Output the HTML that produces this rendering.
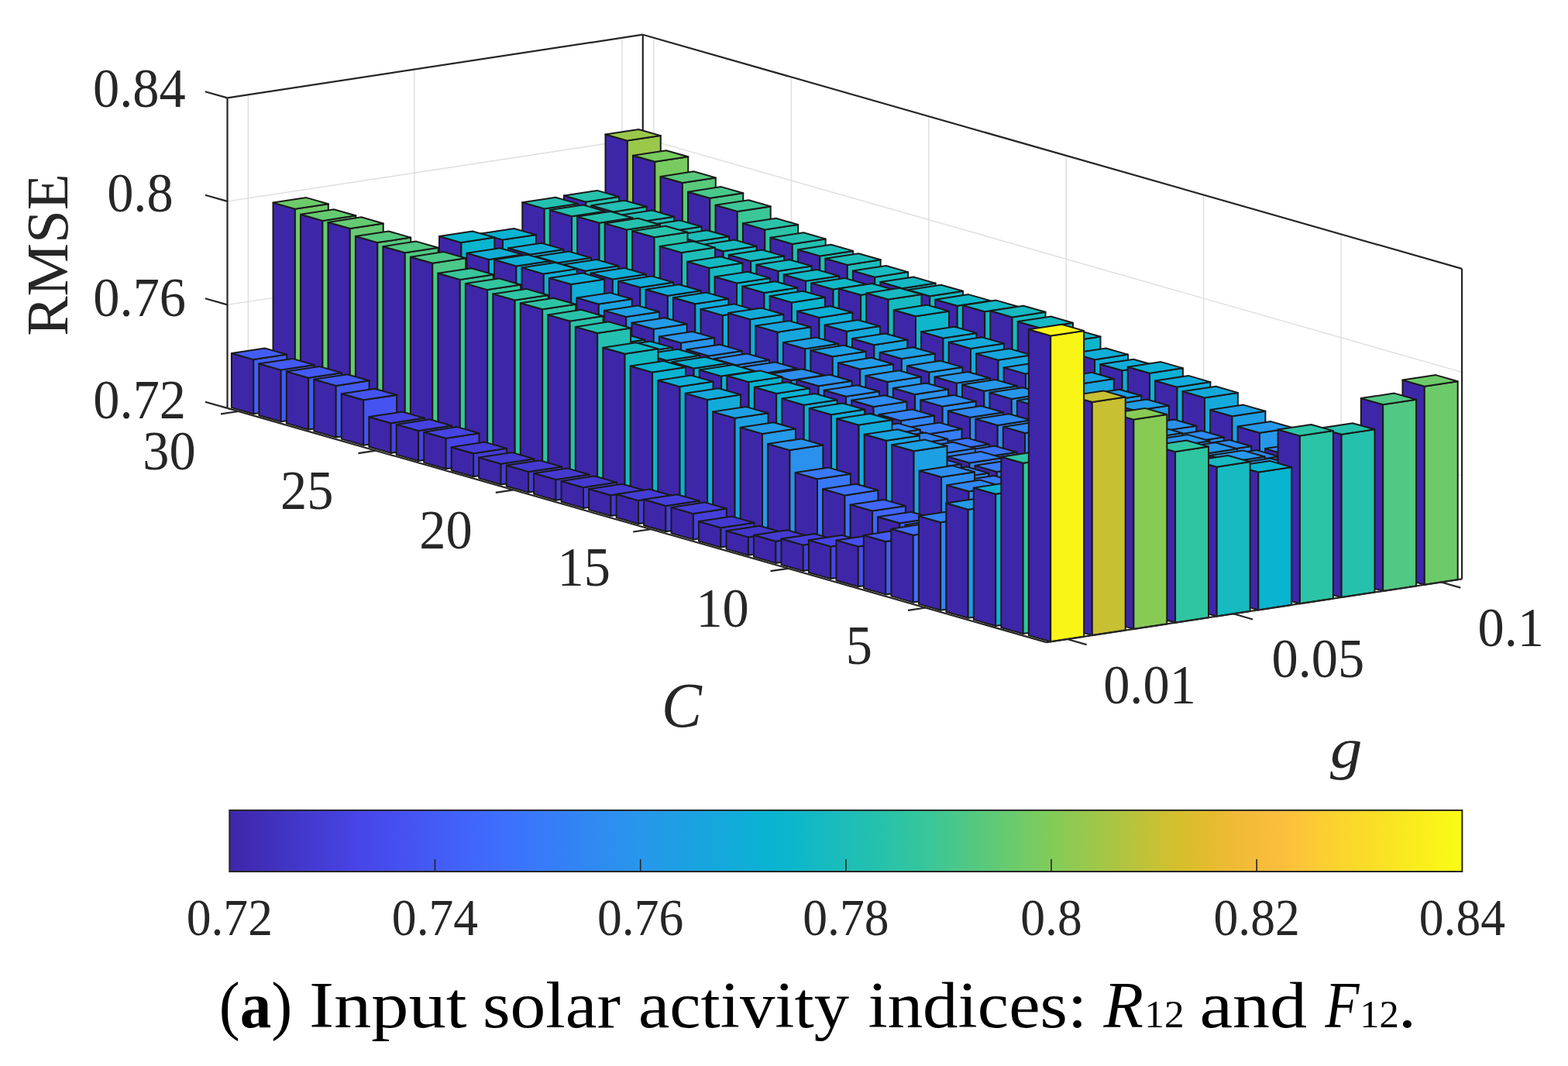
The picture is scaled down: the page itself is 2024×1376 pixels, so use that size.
<!DOCTYPE html><html><head><meta charset="utf-8"><title>RMSE bar chart</title><style>html,body{margin:0;padding:0;background:#fff;}svg{display:block;}</style></head><body><svg width="2024" height="1376" viewBox="0 0 2024 1376"><rect width="100%" height="100%" fill="#ffffff"/><line x1="320.3" y1="522.8" x2="320.3" y2="122.3" stroke="#dedede" stroke-width="1.4"/><line x1="534.8" y1="490.1" x2="534.8" y2="89.6" stroke="#dedede" stroke-width="1.4"/><line x1="803.0" y1="449.3" x2="803.0" y2="48.8" stroke="#dedede" stroke-width="1.4"/><line x1="1731.0" y1="702.8" x2="1731.0" y2="302.3" stroke="#dedede" stroke-width="1.4"/><line x1="1553.6" y1="652.1" x2="1553.6" y2="251.6" stroke="#dedede" stroke-width="1.4"/><line x1="1376.2" y1="601.4" x2="1376.2" y2="200.9" stroke="#dedede" stroke-width="1.4"/><line x1="1198.8" y1="550.7" x2="1198.8" y2="150.2" stroke="#dedede" stroke-width="1.4"/><line x1="1021.4" y1="500.0" x2="1021.4" y2="99.5" stroke="#dedede" stroke-width="1.4"/><line x1="844.0" y1="449.3" x2="844.0" y2="48.8" stroke="#dedede" stroke-width="1.4"/><line x1="293.5" y1="393.4" x2="829.8" y2="311.7" stroke="#dedede" stroke-width="1.4"/><line x1="829.8" y1="311.7" x2="1887.1" y2="613.9" stroke="#dedede" stroke-width="1.4"/><line x1="293.5" y1="259.9" x2="829.8" y2="178.2" stroke="#dedede" stroke-width="1.4"/><line x1="829.8" y1="178.2" x2="1887.1" y2="480.4" stroke="#dedede" stroke-width="1.4"/><line x1="320.3" y1="522.8" x2="1377.6" y2="825.0" stroke="#dedede" stroke-width="1.4"/><line x1="534.8" y1="490.1" x2="1592.1" y2="792.3" stroke="#dedede" stroke-width="1.4"/><line x1="803.0" y1="449.3" x2="1860.3" y2="751.5" stroke="#dedede" stroke-width="1.4"/><line x1="1194.7" y1="784.5" x2="1731.0" y2="702.8" stroke="#dedede" stroke-width="1.4"/><line x1="1017.3" y1="733.8" x2="1553.6" y2="652.1" stroke="#dedede" stroke-width="1.4"/><line x1="839.9" y1="683.1" x2="1376.2" y2="601.4" stroke="#dedede" stroke-width="1.4"/><line x1="662.5" y1="632.4" x2="1198.8" y2="550.7" stroke="#dedede" stroke-width="1.4"/><line x1="485.1" y1="581.7" x2="1021.4" y2="500.0" stroke="#dedede" stroke-width="1.4"/><line x1="307.7" y1="531.0" x2="844.0" y2="449.3" stroke="#dedede" stroke-width="1.4"/><line x1="293.5" y1="526.9" x2="293.5" y2="126.4" stroke="#262626" stroke-width="2.2"/><line x1="829.8" y1="445.2" x2="829.8" y2="44.7" stroke="#262626" stroke-width="2.2"/><line x1="1887.1" y1="747.4" x2="1887.1" y2="346.9" stroke="#262626" stroke-width="2.2"/><line x1="293.5" y1="126.4" x2="829.8" y2="44.7" stroke="#262626" stroke-width="2.2"/><line x1="829.8" y1="44.7" x2="1887.1" y2="346.9" stroke="#262626" stroke-width="2.2"/><polygon points="781.5,452.6 809.9,460.7 809.9,181.6 781.5,173.5" fill="#3e26a8" stroke="#1a1a1a" stroke-width="2.0" stroke-linejoin="round"/><polygon points="809.9,460.7 852.8,454.1 852.8,175.1 809.9,181.6" fill="#9ac84b" stroke="#1a1a1a" stroke-width="2.0" stroke-linejoin="round"/><polygon points="809.9,181.6 852.8,175.1 824.4,167.0 781.5,173.5" fill="#9ac84b" stroke="#1a1a1a" stroke-width="2.0" stroke-linejoin="round"/><polygon points="727.9,460.7 756.3,468.8 756.3,260.6 727.9,252.5" fill="#3e26a8" stroke="#1a1a1a" stroke-width="2.0" stroke-linejoin="round"/><polygon points="756.3,468.8 799.2,462.3 799.2,254.0 756.3,260.6" fill="#25c1ae" stroke="#1a1a1a" stroke-width="2.0" stroke-linejoin="round"/><polygon points="756.3,260.6 799.2,254.0 770.8,245.9 727.9,252.5" fill="#25c1ae" stroke="#1a1a1a" stroke-width="2.0" stroke-linejoin="round"/><polygon points="817.0,462.7 845.4,470.8 845.4,208.8 817.0,200.7" fill="#3e26a8" stroke="#1a1a1a" stroke-width="2.0" stroke-linejoin="round"/><polygon points="845.4,470.8 888.3,464.3 888.3,202.3 845.4,208.8" fill="#78cb60" stroke="#1a1a1a" stroke-width="2.0" stroke-linejoin="round"/><polygon points="845.4,208.8 888.3,202.3 859.9,194.2 817.0,200.7" fill="#78cb60" stroke="#1a1a1a" stroke-width="2.0" stroke-linejoin="round"/><polygon points="674.3,468.9 702.7,477.0 702.7,269.4 674.3,261.3" fill="#3e26a8" stroke="#1a1a1a" stroke-width="2.0" stroke-linejoin="round"/><polygon points="702.7,477.0 745.6,470.5 745.6,262.9 702.7,269.4" fill="#23c0b0" stroke="#1a1a1a" stroke-width="2.0" stroke-linejoin="round"/><polygon points="702.7,269.4 745.6,262.9 717.2,254.8 674.3,261.3" fill="#23c0b0" stroke="#1a1a1a" stroke-width="2.0" stroke-linejoin="round"/><polygon points="763.4,470.9 791.8,479.0 791.8,273.4 763.4,265.3" fill="#3e26a8" stroke="#1a1a1a" stroke-width="2.0" stroke-linejoin="round"/><polygon points="791.8,479.0 834.7,472.4 834.7,266.8 791.8,273.4" fill="#22bfb2" stroke="#1a1a1a" stroke-width="2.0" stroke-linejoin="round"/><polygon points="791.8,273.4 834.7,266.8 806.3,258.7 763.4,265.3" fill="#22bfb2" stroke="#1a1a1a" stroke-width="2.0" stroke-linejoin="round"/><polygon points="852.5,472.8 880.9,480.9 880.9,236.0 852.5,227.9" fill="#3e26a8" stroke="#1a1a1a" stroke-width="2.0" stroke-linejoin="round"/><polygon points="880.9,480.9 923.8,474.4 923.8,229.4 880.9,236.0" fill="#59c97c" stroke="#1a1a1a" stroke-width="2.0" stroke-linejoin="round"/><polygon points="880.9,236.0 923.8,229.4 895.4,221.3 852.5,227.9" fill="#59c97c" stroke="#1a1a1a" stroke-width="2.0" stroke-linejoin="round"/><polygon points="620.6,477.1 649.0,485.2 649.0,309.6 620.6,301.5" fill="#3e26a8" stroke="#1a1a1a" stroke-width="2.0" stroke-linejoin="round"/><polygon points="649.0,485.2 691.9,478.6 691.9,303.1 649.0,309.6" fill="#09b3d1" stroke="#1a1a1a" stroke-width="2.0" stroke-linejoin="round"/><polygon points="649.0,309.6 691.9,303.1 663.5,295.0 620.6,301.5" fill="#09b3d1" stroke="#1a1a1a" stroke-width="2.0" stroke-linejoin="round"/><polygon points="709.8,479.0 738.1,487.1 738.1,279.2 709.8,271.1" fill="#3e26a8" stroke="#1a1a1a" stroke-width="2.0" stroke-linejoin="round"/><polygon points="738.1,487.1 781.0,480.6 781.0,272.7 738.1,279.2" fill="#23c0b0" stroke="#1a1a1a" stroke-width="2.0" stroke-linejoin="round"/><polygon points="738.1,279.2 781.0,272.7 752.7,264.6 709.8,271.1" fill="#23c0b0" stroke="#1a1a1a" stroke-width="2.0" stroke-linejoin="round"/><polygon points="798.9,481.0 827.2,489.1 827.2,286.2 798.9,278.1" fill="#3e26a8" stroke="#1a1a1a" stroke-width="2.0" stroke-linejoin="round"/><polygon points="827.2,489.1 870.2,482.6 870.2,279.7 827.2,286.2" fill="#1fbeb5" stroke="#1a1a1a" stroke-width="2.0" stroke-linejoin="round"/><polygon points="827.2,286.2 870.2,279.7 841.8,271.5 798.9,278.1" fill="#1fbeb5" stroke="#1a1a1a" stroke-width="2.0" stroke-linejoin="round"/><polygon points="888.0,483.0 916.4,491.1 916.4,255.8 888.0,247.7" fill="#3e26a8" stroke="#1a1a1a" stroke-width="2.0" stroke-linejoin="round"/><polygon points="916.4,491.1 959.3,484.5 959.3,249.3 916.4,255.8" fill="#49c88b" stroke="#1a1a1a" stroke-width="2.0" stroke-linejoin="round"/><polygon points="916.4,255.8 959.3,249.3 930.9,241.1 888.0,247.7" fill="#49c88b" stroke="#1a1a1a" stroke-width="2.0" stroke-linejoin="round"/><polygon points="567.0,485.2 595.4,493.3 595.4,313.1 567.0,305.0" fill="#3e26a8" stroke="#1a1a1a" stroke-width="2.0" stroke-linejoin="round"/><polygon points="595.4,493.3 638.3,486.8 638.3,306.6 595.4,313.1" fill="#0ab6cd" stroke="#1a1a1a" stroke-width="2.0" stroke-linejoin="round"/><polygon points="595.4,313.1 638.3,306.6 609.9,298.5 567.0,305.0" fill="#0ab6cd" stroke="#1a1a1a" stroke-width="2.0" stroke-linejoin="round"/><polygon points="656.1,487.2 684.5,495.3 684.5,328.4 656.1,320.3" fill="#3e26a8" stroke="#1a1a1a" stroke-width="2.0" stroke-linejoin="round"/><polygon points="684.5,495.3 727.4,488.8 727.4,321.9 684.5,328.4" fill="#10add7" stroke="#1a1a1a" stroke-width="2.0" stroke-linejoin="round"/><polygon points="684.5,328.4 727.4,321.9 699.0,313.8 656.1,320.3" fill="#10add7" stroke="#1a1a1a" stroke-width="2.0" stroke-linejoin="round"/><polygon points="745.2,489.2 773.6,497.3 773.6,287.7 745.2,279.6" fill="#3e26a8" stroke="#1a1a1a" stroke-width="2.0" stroke-linejoin="round"/><polygon points="773.6,497.3 816.5,490.7 816.5,281.2 773.6,287.7" fill="#25c1ae" stroke="#1a1a1a" stroke-width="2.0" stroke-linejoin="round"/><polygon points="773.6,287.7 816.5,281.2 788.1,273.0 745.2,279.6" fill="#25c1ae" stroke="#1a1a1a" stroke-width="2.0" stroke-linejoin="round"/><polygon points="834.3,491.1 862.7,499.3 862.7,299.0 834.3,290.9" fill="#3e26a8" stroke="#1a1a1a" stroke-width="2.0" stroke-linejoin="round"/><polygon points="862.7,499.3 905.6,492.7 905.6,292.5 862.7,299.0" fill="#1dbeb7" stroke="#1a1a1a" stroke-width="2.0" stroke-linejoin="round"/><polygon points="862.7,299.0 905.6,292.5 877.2,284.4 834.3,290.9" fill="#1dbeb7" stroke="#1a1a1a" stroke-width="2.0" stroke-linejoin="round"/><polygon points="923.5,493.1 951.8,501.2 951.8,272.9 923.5,264.8" fill="#3e26a8" stroke="#1a1a1a" stroke-width="2.0" stroke-linejoin="round"/><polygon points="951.8,501.2 994.7,494.7 994.7,266.4 951.8,272.9" fill="#3bc797" stroke="#1a1a1a" stroke-width="2.0" stroke-linejoin="round"/><polygon points="951.8,272.9 994.7,266.4 966.4,258.3 923.5,264.8" fill="#3bc797" stroke="#1a1a1a" stroke-width="2.0" stroke-linejoin="round"/><polygon points="513.4,493.4 541.8,501.5 541.8,341.3 513.4,333.2" fill="#3e26a8" stroke="#1a1a1a" stroke-width="2.0" stroke-linejoin="round"/><polygon points="541.8,501.5 584.7,495.0 584.7,334.8 541.8,341.3" fill="#14a9db" stroke="#1a1a1a" stroke-width="2.0" stroke-linejoin="round"/><polygon points="541.8,341.3 584.7,334.8 556.3,326.7 513.4,333.2" fill="#14a9db" stroke="#1a1a1a" stroke-width="2.0" stroke-linejoin="round"/><polygon points="602.5,495.4 630.9,503.5 630.9,334.9 602.5,326.8" fill="#3e26a8" stroke="#1a1a1a" stroke-width="2.0" stroke-linejoin="round"/><polygon points="630.9,503.5 673.8,496.9 673.8,328.4 630.9,334.9" fill="#0faed6" stroke="#1a1a1a" stroke-width="2.0" stroke-linejoin="round"/><polygon points="630.9,334.9 673.8,328.4 645.4,320.3 602.5,326.8" fill="#0faed6" stroke="#1a1a1a" stroke-width="2.0" stroke-linejoin="round"/><polygon points="691.6,497.3 720.0,505.5 720.0,339.2 691.6,331.1" fill="#3e26a8" stroke="#1a1a1a" stroke-width="2.0" stroke-linejoin="round"/><polygon points="720.0,505.5 762.9,498.9 762.9,332.7 720.0,339.2" fill="#10add7" stroke="#1a1a1a" stroke-width="2.0" stroke-linejoin="round"/><polygon points="720.0,339.2 762.9,332.7 734.5,324.6 691.6,331.1" fill="#10add7" stroke="#1a1a1a" stroke-width="2.0" stroke-linejoin="round"/><polygon points="780.7,499.3 809.1,507.4 809.1,296.5 780.7,288.4" fill="#3e26a8" stroke="#1a1a1a" stroke-width="2.0" stroke-linejoin="round"/><polygon points="809.1,507.4 852.0,500.9 852.0,290.0 809.1,296.5" fill="#26c1ad" stroke="#1a1a1a" stroke-width="2.0" stroke-linejoin="round"/><polygon points="809.1,296.5 852.0,290.0 823.6,281.8 780.7,288.4" fill="#26c1ad" stroke="#1a1a1a" stroke-width="2.0" stroke-linejoin="round"/><polygon points="869.8,501.3 898.2,509.4 898.2,311.8 869.8,303.7" fill="#3e26a8" stroke="#1a1a1a" stroke-width="2.0" stroke-linejoin="round"/><polygon points="898.2,509.4 941.1,502.9 941.1,305.3 898.2,311.8" fill="#1abcba" stroke="#1a1a1a" stroke-width="2.0" stroke-linejoin="round"/><polygon points="898.2,311.8 941.1,305.3 912.7,297.2 869.8,303.7" fill="#1abcba" stroke="#1a1a1a" stroke-width="2.0" stroke-linejoin="round"/><polygon points="958.9,503.3 987.3,511.4 987.3,296.4 958.9,288.3" fill="#3e26a8" stroke="#1a1a1a" stroke-width="2.0" stroke-linejoin="round"/><polygon points="987.3,511.4 1030.2,504.8 1030.2,289.9 987.3,296.4" fill="#2bc3a7" stroke="#1a1a1a" stroke-width="2.0" stroke-linejoin="round"/><polygon points="987.3,296.4 1030.2,289.9 1001.8,281.8 958.9,288.3" fill="#2bc3a7" stroke="#1a1a1a" stroke-width="2.0" stroke-linejoin="round"/><polygon points="459.8,501.6 488.1,509.7 488.1,349.5 459.8,341.4" fill="#3e26a8" stroke="#1a1a1a" stroke-width="2.0" stroke-linejoin="round"/><polygon points="488.1,509.7 531.0,503.1 531.0,342.9 488.1,349.5" fill="#14a9db" stroke="#1a1a1a" stroke-width="2.0" stroke-linejoin="round"/><polygon points="488.1,349.5 531.0,342.9 502.7,334.8 459.8,341.4" fill="#14a9db" stroke="#1a1a1a" stroke-width="2.0" stroke-linejoin="round"/><polygon points="548.9,503.5 577.2,511.7 577.2,358.1 548.9,350.0" fill="#3e26a8" stroke="#1a1a1a" stroke-width="2.0" stroke-linejoin="round"/><polygon points="577.2,511.7 620.2,505.1 620.2,351.6 577.2,358.1" fill="#19a4df" stroke="#1a1a1a" stroke-width="2.0" stroke-linejoin="round"/><polygon points="577.2,358.1 620.2,351.6 591.8,343.5 548.9,350.0" fill="#19a4df" stroke="#1a1a1a" stroke-width="2.0" stroke-linejoin="round"/><polygon points="638.0,505.5 666.4,513.6 666.4,343.4 638.0,335.3" fill="#3e26a8" stroke="#1a1a1a" stroke-width="2.0" stroke-linejoin="round"/><polygon points="666.4,513.6 709.3,507.1 709.3,336.9 666.4,343.4" fill="#0eafd5" stroke="#1a1a1a" stroke-width="2.0" stroke-linejoin="round"/><polygon points="666.4,343.4 709.3,336.9 680.9,328.8 638.0,335.3" fill="#0eafd5" stroke="#1a1a1a" stroke-width="2.0" stroke-linejoin="round"/><polygon points="727.1,507.5 755.5,515.6 755.5,349.7 727.1,341.6" fill="#3e26a8" stroke="#1a1a1a" stroke-width="2.0" stroke-linejoin="round"/><polygon points="755.5,515.6 798.4,509.1 798.4,343.2 755.5,349.7" fill="#10add7" stroke="#1a1a1a" stroke-width="2.0" stroke-linejoin="round"/><polygon points="755.5,349.7 798.4,343.2 770.0,335.1 727.1,341.6" fill="#10add7" stroke="#1a1a1a" stroke-width="2.0" stroke-linejoin="round"/><polygon points="816.2,509.5 844.6,517.6 844.6,306.3 816.2,298.2" fill="#3e26a8" stroke="#1a1a1a" stroke-width="2.0" stroke-linejoin="round"/><polygon points="844.6,517.6 887.5,511.0 887.5,299.8 844.6,306.3" fill="#28c2ab" stroke="#1a1a1a" stroke-width="2.0" stroke-linejoin="round"/><polygon points="844.6,306.3 887.5,299.8 859.1,291.7 816.2,298.2" fill="#28c2ab" stroke="#1a1a1a" stroke-width="2.0" stroke-linejoin="round"/><polygon points="905.3,511.4 933.7,519.5 933.7,324.3 905.3,316.2" fill="#3e26a8" stroke="#1a1a1a" stroke-width="2.0" stroke-linejoin="round"/><polygon points="933.7,519.5 976.6,513.0 976.6,317.8 933.7,324.3" fill="#17bbbe" stroke="#1a1a1a" stroke-width="2.0" stroke-linejoin="round"/><polygon points="933.7,324.3 976.6,317.8 948.2,309.6 905.3,316.2" fill="#17bbbe" stroke="#1a1a1a" stroke-width="2.0" stroke-linejoin="round"/><polygon points="994.4,513.4 1022.8,521.5 1022.8,314.9 994.4,306.8" fill="#3e26a8" stroke="#1a1a1a" stroke-width="2.0" stroke-linejoin="round"/><polygon points="1022.8,521.5 1065.7,515.0 1065.7,308.4 1022.8,314.9" fill="#23c0b0" stroke="#1a1a1a" stroke-width="2.0" stroke-linejoin="round"/><polygon points="1022.8,314.9 1065.7,308.4 1037.3,300.3 994.4,306.8" fill="#23c0b0" stroke="#1a1a1a" stroke-width="2.0" stroke-linejoin="round"/><polygon points="406.1,509.7 434.5,517.9 434.5,343.6 406.1,335.5" fill="#3e26a8" stroke="#1a1a1a" stroke-width="2.0" stroke-linejoin="round"/><polygon points="434.5,517.9 477.4,511.3 477.4,337.1 434.5,343.6" fill="#0ab2d2" stroke="#1a1a1a" stroke-width="2.0" stroke-linejoin="round"/><polygon points="434.5,343.6 477.4,337.1 449.0,329.0 406.1,335.5" fill="#0ab2d2" stroke="#1a1a1a" stroke-width="2.0" stroke-linejoin="round"/><polygon points="495.2,511.7 523.6,519.8 523.6,365.0 495.2,356.9" fill="#3e26a8" stroke="#1a1a1a" stroke-width="2.0" stroke-linejoin="round"/><polygon points="523.6,519.8 566.5,513.3 566.5,358.4 523.6,365.0" fill="#19a4df" stroke="#1a1a1a" stroke-width="2.0" stroke-linejoin="round"/><polygon points="523.6,365.0 566.5,358.4 538.1,350.3 495.2,356.9" fill="#19a4df" stroke="#1a1a1a" stroke-width="2.0" stroke-linejoin="round"/><polygon points="584.3,513.7 612.7,521.8 612.7,374.9 584.3,366.8" fill="#3e26a8" stroke="#1a1a1a" stroke-width="2.0" stroke-linejoin="round"/><polygon points="612.7,521.8 655.6,515.3 655.6,368.4 612.7,374.9" fill="#1e9fe3" stroke="#1a1a1a" stroke-width="2.0" stroke-linejoin="round"/><polygon points="612.7,374.9 655.6,368.4 627.2,360.3 584.3,366.8" fill="#1e9fe3" stroke="#1a1a1a" stroke-width="2.0" stroke-linejoin="round"/><polygon points="673.5,515.7 701.8,523.8 701.8,353.6 673.5,345.4" fill="#3e26a8" stroke="#1a1a1a" stroke-width="2.0" stroke-linejoin="round"/><polygon points="701.8,523.8 744.7,517.2 744.7,347.0 701.8,353.6" fill="#0eafd5" stroke="#1a1a1a" stroke-width="2.0" stroke-linejoin="round"/><polygon points="701.8,353.6 744.7,347.0 716.4,338.9 673.5,345.4" fill="#0eafd5" stroke="#1a1a1a" stroke-width="2.0" stroke-linejoin="round"/><polygon points="762.6,517.6 790.9,525.7 790.9,360.5 762.6,352.4" fill="#3e26a8" stroke="#1a1a1a" stroke-width="2.0" stroke-linejoin="round"/><polygon points="790.9,525.7 833.9,519.2 833.9,354.0 790.9,360.5" fill="#11acd8" stroke="#1a1a1a" stroke-width="2.0" stroke-linejoin="round"/><polygon points="790.9,360.5 833.9,354.0 805.5,345.9 762.6,352.4" fill="#11acd8" stroke="#1a1a1a" stroke-width="2.0" stroke-linejoin="round"/><polygon points="851.7,519.6 880.1,527.7 880.1,326.1 851.7,318.0" fill="#3e26a8" stroke="#1a1a1a" stroke-width="2.0" stroke-linejoin="round"/><polygon points="880.1,527.7 923.0,521.2 923.0,319.6 880.1,326.1" fill="#1dbeb7" stroke="#1a1a1a" stroke-width="2.0" stroke-linejoin="round"/><polygon points="880.1,326.1 923.0,319.6 894.6,311.5 851.7,318.0" fill="#1dbeb7" stroke="#1a1a1a" stroke-width="2.0" stroke-linejoin="round"/><polygon points="940.8,521.6 969.2,529.7 969.2,337.1 940.8,329.0" fill="#3e26a8" stroke="#1a1a1a" stroke-width="2.0" stroke-linejoin="round"/><polygon points="969.2,529.7 1012.1,523.1 1012.1,330.6 969.2,337.1" fill="#16bac0" stroke="#1a1a1a" stroke-width="2.0" stroke-linejoin="round"/><polygon points="969.2,337.1 1012.1,330.6 983.7,322.5 940.8,329.0" fill="#16bac0" stroke="#1a1a1a" stroke-width="2.0" stroke-linejoin="round"/><polygon points="1029.9,523.5 1058.3,531.6 1058.3,330.4 1029.9,322.3" fill="#3e26a8" stroke="#1a1a1a" stroke-width="2.0" stroke-linejoin="round"/><polygon points="1058.3,531.6 1101.2,525.1 1101.2,323.9 1058.3,330.4" fill="#1dbeb7" stroke="#1a1a1a" stroke-width="2.0" stroke-linejoin="round"/><polygon points="1058.3,330.4 1101.2,323.9 1072.8,315.7 1029.9,322.3" fill="#1dbeb7" stroke="#1a1a1a" stroke-width="2.0" stroke-linejoin="round"/><polygon points="352.5,517.9 380.9,526.0 380.9,269.7 352.5,261.6" fill="#3e26a8" stroke="#1a1a1a" stroke-width="2.0" stroke-linejoin="round"/><polygon points="380.9,526.0 423.8,519.5 423.8,263.2 380.9,269.7" fill="#6dca6a" stroke="#1a1a1a" stroke-width="2.0" stroke-linejoin="round"/><polygon points="380.9,269.7 423.8,263.2 395.4,255.1 352.5,261.6" fill="#6dca6a" stroke="#1a1a1a" stroke-width="2.0" stroke-linejoin="round"/><polygon points="441.6,519.9 470.0,528.0 470.0,353.8 441.6,345.7" fill="#3e26a8" stroke="#1a1a1a" stroke-width="2.0" stroke-linejoin="round"/><polygon points="470.0,528.0 512.9,521.5 512.9,347.2 470.0,353.8" fill="#0ab2d2" stroke="#1a1a1a" stroke-width="2.0" stroke-linejoin="round"/><polygon points="470.0,353.8 512.9,347.2 484.5,339.1 441.6,345.7" fill="#0ab2d2" stroke="#1a1a1a" stroke-width="2.0" stroke-linejoin="round"/><polygon points="530.7,521.9 559.1,530.0 559.1,380.4 530.7,372.3" fill="#3e26a8" stroke="#1a1a1a" stroke-width="2.0" stroke-linejoin="round"/><polygon points="559.1,530.0 602.0,523.4 602.0,373.9 559.1,380.4" fill="#1ca1e2" stroke="#1a1a1a" stroke-width="2.0" stroke-linejoin="round"/><polygon points="559.1,380.4 602.0,373.9 573.6,365.8 530.7,372.3" fill="#1ca1e2" stroke="#1a1a1a" stroke-width="2.0" stroke-linejoin="round"/><polygon points="619.8,523.8 648.2,531.9 648.2,391.8 619.8,383.6" fill="#3e26a8" stroke="#1a1a1a" stroke-width="2.0" stroke-linejoin="round"/><polygon points="648.2,531.9 691.1,525.4 691.1,385.2 648.2,391.8" fill="#239be7" stroke="#1a1a1a" stroke-width="2.0" stroke-linejoin="round"/><polygon points="648.2,391.8 691.1,385.2 662.7,377.1 619.8,383.6" fill="#239be7" stroke="#1a1a1a" stroke-width="2.0" stroke-linejoin="round"/><polygon points="708.9,525.8 737.3,533.9 737.3,367.0 708.9,358.9" fill="#3e26a8" stroke="#1a1a1a" stroke-width="2.0" stroke-linejoin="round"/><polygon points="737.3,533.9 780.2,527.4 780.2,360.5 737.3,367.0" fill="#10add7" stroke="#1a1a1a" stroke-width="2.0" stroke-linejoin="round"/><polygon points="737.3,367.0 780.2,360.5 751.8,352.4 708.9,358.9" fill="#10add7" stroke="#1a1a1a" stroke-width="2.0" stroke-linejoin="round"/><polygon points="798.0,527.8 826.4,535.9 826.4,371.0 798.0,362.9" fill="#3e26a8" stroke="#1a1a1a" stroke-width="2.0" stroke-linejoin="round"/><polygon points="826.4,535.9 869.3,529.3 869.3,364.5 826.4,371.0" fill="#11acd8" stroke="#1a1a1a" stroke-width="2.0" stroke-linejoin="round"/><polygon points="826.4,371.0 869.3,364.5 840.9,356.4 798.0,362.9" fill="#11acd8" stroke="#1a1a1a" stroke-width="2.0" stroke-linejoin="round"/><polygon points="887.2,529.7 915.5,537.8 915.5,345.9 887.2,337.8" fill="#3e26a8" stroke="#1a1a1a" stroke-width="2.0" stroke-linejoin="round"/><polygon points="915.5,537.8 958.4,531.3 958.4,339.4 915.5,345.9" fill="#14bac1" stroke="#1a1a1a" stroke-width="2.0" stroke-linejoin="round"/><polygon points="915.5,345.9 958.4,339.4 930.1,331.3 887.2,337.8" fill="#14bac1" stroke="#1a1a1a" stroke-width="2.0" stroke-linejoin="round"/><polygon points="976.3,531.7 1004.6,539.8 1004.6,349.9 976.3,341.8" fill="#3e26a8" stroke="#1a1a1a" stroke-width="2.0" stroke-linejoin="round"/><polygon points="1004.6,539.8 1047.6,533.3 1047.6,343.4 1004.6,349.9" fill="#13b9c3" stroke="#1a1a1a" stroke-width="2.0" stroke-linejoin="round"/><polygon points="1004.6,349.9 1047.6,343.4 1019.2,335.3 976.3,341.8" fill="#13b9c3" stroke="#1a1a1a" stroke-width="2.0" stroke-linejoin="round"/><polygon points="1065.4,533.7 1093.8,541.8 1093.8,341.9 1065.4,333.8" fill="#3e26a8" stroke="#1a1a1a" stroke-width="2.0" stroke-linejoin="round"/><polygon points="1093.8,541.8 1136.7,535.2 1136.7,335.3 1093.8,341.9" fill="#1cbdb9" stroke="#1a1a1a" stroke-width="2.0" stroke-linejoin="round"/><polygon points="1093.8,341.9 1136.7,335.3 1108.3,327.2 1065.4,333.8" fill="#1cbdb9" stroke="#1a1a1a" stroke-width="2.0" stroke-linejoin="round"/><polygon points="298.9,526.1 327.2,534.2 327.2,464.1 298.9,456.0" fill="#3e26a8" stroke="#1a1a1a" stroke-width="2.0" stroke-linejoin="round"/><polygon points="327.2,534.2 370.2,527.7 370.2,457.6 327.2,464.1" fill="#425df6" stroke="#1a1a1a" stroke-width="2.0" stroke-linejoin="round"/><polygon points="327.2,464.1 370.2,457.6 341.8,449.5 298.9,456.0" fill="#425df6" stroke="#1a1a1a" stroke-width="2.0" stroke-linejoin="round"/><polygon points="388.0,528.1 416.4,536.2 416.4,284.9 388.0,276.7" fill="#3e26a8" stroke="#1a1a1a" stroke-width="2.0" stroke-linejoin="round"/><polygon points="416.4,536.2 459.3,529.6 459.3,278.3 416.4,284.9" fill="#65ca72" stroke="#1a1a1a" stroke-width="2.0" stroke-linejoin="round"/><polygon points="416.4,284.9 459.3,278.3 430.9,270.2 388.0,276.7" fill="#65ca72" stroke="#1a1a1a" stroke-width="2.0" stroke-linejoin="round"/><polygon points="477.1,530.0 505.5,538.1 505.5,363.9 477.1,355.8" fill="#3e26a8" stroke="#1a1a1a" stroke-width="2.0" stroke-linejoin="round"/><polygon points="505.5,538.1 548.4,531.6 548.4,357.4 505.5,363.9" fill="#0ab2d2" stroke="#1a1a1a" stroke-width="2.0" stroke-linejoin="round"/><polygon points="505.5,363.9 548.4,357.4 520.0,349.3 477.1,355.8" fill="#0ab2d2" stroke="#1a1a1a" stroke-width="2.0" stroke-linejoin="round"/><polygon points="566.2,532.0 594.6,540.1 594.6,395.9 566.2,387.8" fill="#3e26a8" stroke="#1a1a1a" stroke-width="2.0" stroke-linejoin="round"/><polygon points="594.6,540.1 637.5,533.6 637.5,389.4 594.6,395.9" fill="#1f9ee4" stroke="#1a1a1a" stroke-width="2.0" stroke-linejoin="round"/><polygon points="594.6,395.9 637.5,389.4 609.1,381.3 566.2,387.8" fill="#1f9ee4" stroke="#1a1a1a" stroke-width="2.0" stroke-linejoin="round"/><polygon points="655.3,534.0 683.7,542.1 683.7,408.6 655.3,400.5" fill="#3e26a8" stroke="#1a1a1a" stroke-width="2.0" stroke-linejoin="round"/><polygon points="683.7,542.1 726.6,535.5 726.6,402.0 683.7,408.6" fill="#2797eb" stroke="#1a1a1a" stroke-width="2.0" stroke-linejoin="round"/><polygon points="683.7,408.6 726.6,402.0 698.2,393.9 655.3,400.5" fill="#2797eb" stroke="#1a1a1a" stroke-width="2.0" stroke-linejoin="round"/><polygon points="744.4,535.9 772.8,544.0 772.8,392.5 744.4,384.4" fill="#3e26a8" stroke="#1a1a1a" stroke-width="2.0" stroke-linejoin="round"/><polygon points="772.8,544.0 815.7,537.5 815.7,386.0 772.8,392.5" fill="#1ba2e1" stroke="#1a1a1a" stroke-width="2.0" stroke-linejoin="round"/><polygon points="772.8,392.5 815.7,386.0 787.3,377.9 744.4,384.4" fill="#1ba2e1" stroke="#1a1a1a" stroke-width="2.0" stroke-linejoin="round"/><polygon points="833.5,537.9 861.9,546.0 861.9,381.8 833.5,373.7" fill="#3e26a8" stroke="#1a1a1a" stroke-width="2.0" stroke-linejoin="round"/><polygon points="861.9,546.0 904.8,539.5 904.8,375.3 861.9,381.8" fill="#12abd9" stroke="#1a1a1a" stroke-width="2.0" stroke-linejoin="round"/><polygon points="861.9,381.8 904.8,375.3 876.4,367.2 833.5,373.7" fill="#12abd9" stroke="#1a1a1a" stroke-width="2.0" stroke-linejoin="round"/><polygon points="922.6,539.9 951.0,548.0 951.0,365.4 922.6,357.3" fill="#3e26a8" stroke="#1a1a1a" stroke-width="2.0" stroke-linejoin="round"/><polygon points="951.0,548.0 993.9,541.4 993.9,358.9 951.0,365.4" fill="#0cb6cc" stroke="#1a1a1a" stroke-width="2.0" stroke-linejoin="round"/><polygon points="951.0,365.4 993.9,358.9 965.5,350.8 922.6,357.3" fill="#0cb6cc" stroke="#1a1a1a" stroke-width="2.0" stroke-linejoin="round"/><polygon points="1011.7,541.8 1040.1,550.0 1040.1,362.7 1011.7,354.6" fill="#3e26a8" stroke="#1a1a1a" stroke-width="2.0" stroke-linejoin="round"/><polygon points="1040.1,550.0 1083.0,543.4 1083.0,356.2 1040.1,362.7" fill="#10b8c6" stroke="#1a1a1a" stroke-width="2.0" stroke-linejoin="round"/><polygon points="1040.1,362.7 1083.0,356.2 1054.6,348.1 1011.7,354.6" fill="#10b8c6" stroke="#1a1a1a" stroke-width="2.0" stroke-linejoin="round"/><polygon points="1100.9,543.8 1129.2,551.9 1129.2,357.7 1100.9,349.6" fill="#3e26a8" stroke="#1a1a1a" stroke-width="2.0" stroke-linejoin="round"/><polygon points="1129.2,551.9 1172.1,545.4 1172.1,351.1 1129.2,357.7" fill="#17bbbe" stroke="#1a1a1a" stroke-width="2.0" stroke-linejoin="round"/><polygon points="1129.2,357.7 1172.1,351.1 1143.8,343.0 1100.9,349.6" fill="#17bbbe" stroke="#1a1a1a" stroke-width="2.0" stroke-linejoin="round"/><polygon points="334.3,536.2 362.7,544.3 362.7,477.6 334.3,469.5" fill="#3e26a8" stroke="#1a1a1a" stroke-width="2.0" stroke-linejoin="round"/><polygon points="362.7,544.3 405.6,537.8 405.6,471.0 362.7,477.6" fill="#435af5" stroke="#1a1a1a" stroke-width="2.0" stroke-linejoin="round"/><polygon points="362.7,477.6 405.6,471.0 377.2,462.9 334.3,469.5" fill="#435af5" stroke="#1a1a1a" stroke-width="2.0" stroke-linejoin="round"/><polygon points="423.5,538.2 451.8,546.3 451.8,295.0 423.5,286.9" fill="#3e26a8" stroke="#1a1a1a" stroke-width="2.0" stroke-linejoin="round"/><polygon points="451.8,546.3 494.7,539.8 494.7,288.5 451.8,295.0" fill="#65ca72" stroke="#1a1a1a" stroke-width="2.0" stroke-linejoin="round"/><polygon points="451.8,295.0 494.7,288.5 466.4,280.3 423.5,286.9" fill="#65ca72" stroke="#1a1a1a" stroke-width="2.0" stroke-linejoin="round"/><polygon points="512.6,540.2 540.9,548.3 540.9,374.1 512.6,365.9" fill="#3e26a8" stroke="#1a1a1a" stroke-width="2.0" stroke-linejoin="round"/><polygon points="540.9,548.3 583.9,541.7 583.9,367.5 540.9,374.1" fill="#0ab2d2" stroke="#1a1a1a" stroke-width="2.0" stroke-linejoin="round"/><polygon points="540.9,374.1 583.9,367.5 555.5,359.4 512.6,365.9" fill="#0ab2d2" stroke="#1a1a1a" stroke-width="2.0" stroke-linejoin="round"/><polygon points="601.7,542.1 630.1,550.2 630.1,411.4 601.7,403.3" fill="#3e26a8" stroke="#1a1a1a" stroke-width="2.0" stroke-linejoin="round"/><polygon points="630.1,550.2 673.0,543.7 673.0,404.9 630.1,411.4" fill="#249ae8" stroke="#1a1a1a" stroke-width="2.0" stroke-linejoin="round"/><polygon points="630.1,411.4 673.0,404.9 644.6,396.8 601.7,403.3" fill="#249ae8" stroke="#1a1a1a" stroke-width="2.0" stroke-linejoin="round"/><polygon points="690.8,544.1 719.2,552.2 719.2,425.4 690.8,417.3" fill="#3e26a8" stroke="#1a1a1a" stroke-width="2.0" stroke-linejoin="round"/><polygon points="719.2,552.2 762.1,545.7 762.1,418.9 719.2,425.4" fill="#2b91ee" stroke="#1a1a1a" stroke-width="2.0" stroke-linejoin="round"/><polygon points="719.2,425.4 762.1,418.9 733.7,410.7 690.8,417.3" fill="#2b91ee" stroke="#1a1a1a" stroke-width="2.0" stroke-linejoin="round"/><polygon points="779.9,546.1 808.3,554.2 808.3,409.0 779.9,400.9" fill="#3e26a8" stroke="#1a1a1a" stroke-width="2.0" stroke-linejoin="round"/><polygon points="808.3,554.2 851.2,547.6 851.2,402.5 808.3,409.0" fill="#1f9ee4" stroke="#1a1a1a" stroke-width="2.0" stroke-linejoin="round"/><polygon points="808.3,409.0 851.2,402.5 822.8,394.4 779.9,400.9" fill="#1f9ee4" stroke="#1a1a1a" stroke-width="2.0" stroke-linejoin="round"/><polygon points="869.0,548.0 897.4,556.2 897.4,392.3 869.0,384.2" fill="#3e26a8" stroke="#1a1a1a" stroke-width="2.0" stroke-linejoin="round"/><polygon points="897.4,556.2 940.3,549.6 940.3,385.7 897.4,392.3" fill="#12abd9" stroke="#1a1a1a" stroke-width="2.0" stroke-linejoin="round"/><polygon points="897.4,392.3 940.3,385.7 911.9,377.6 869.0,384.2" fill="#12abd9" stroke="#1a1a1a" stroke-width="2.0" stroke-linejoin="round"/><polygon points="958.1,550.0 986.5,558.1 986.5,377.9 958.1,369.8" fill="#3e26a8" stroke="#1a1a1a" stroke-width="2.0" stroke-linejoin="round"/><polygon points="986.5,558.1 1029.4,551.6 1029.4,371.4 986.5,377.9" fill="#0ab6cd" stroke="#1a1a1a" stroke-width="2.0" stroke-linejoin="round"/><polygon points="986.5,377.9 1029.4,371.4 1001.0,363.3 958.1,369.8" fill="#0ab6cd" stroke="#1a1a1a" stroke-width="2.0" stroke-linejoin="round"/><polygon points="1047.2,552.0 1075.6,560.1 1075.6,373.5 1047.2,365.4" fill="#3e26a8" stroke="#1a1a1a" stroke-width="2.0" stroke-linejoin="round"/><polygon points="1075.6,560.1 1118.5,553.6 1118.5,367.0 1075.6,373.5" fill="#10b8c6" stroke="#1a1a1a" stroke-width="2.0" stroke-linejoin="round"/><polygon points="1075.6,373.5 1118.5,367.0 1090.1,358.9 1047.2,365.4" fill="#10b8c6" stroke="#1a1a1a" stroke-width="2.0" stroke-linejoin="round"/><polygon points="1136.3,554.0 1164.7,562.1 1164.7,372.2 1136.3,364.0" fill="#3e26a8" stroke="#1a1a1a" stroke-width="2.0" stroke-linejoin="round"/><polygon points="1164.7,562.1 1207.6,555.5 1207.6,365.6 1164.7,372.2" fill="#13b9c3" stroke="#1a1a1a" stroke-width="2.0" stroke-linejoin="round"/><polygon points="1164.7,372.2 1207.6,365.6 1179.2,357.5 1136.3,364.0" fill="#13b9c3" stroke="#1a1a1a" stroke-width="2.0" stroke-linejoin="round"/><polygon points="369.8,546.4 398.2,554.5 398.2,487.7 369.8,479.6" fill="#3e26a8" stroke="#1a1a1a" stroke-width="2.0" stroke-linejoin="round"/><polygon points="398.2,554.5 441.1,547.9 441.1,481.2 398.2,487.7" fill="#435af5" stroke="#1a1a1a" stroke-width="2.0" stroke-linejoin="round"/><polygon points="398.2,487.7 441.1,481.2 412.7,473.1 369.8,479.6" fill="#435af5" stroke="#1a1a1a" stroke-width="2.0" stroke-linejoin="round"/><polygon points="458.9,548.3 487.3,556.4 487.3,313.1 458.9,305.0" fill="#3e26a8" stroke="#1a1a1a" stroke-width="2.0" stroke-linejoin="round"/><polygon points="487.3,556.4 530.2,549.9 530.2,306.6 487.3,313.1" fill="#57c97e" stroke="#1a1a1a" stroke-width="2.0" stroke-linejoin="round"/><polygon points="487.3,313.1 530.2,306.6 501.8,298.5 458.9,305.0" fill="#57c97e" stroke="#1a1a1a" stroke-width="2.0" stroke-linejoin="round"/><polygon points="548.0,550.3 576.4,558.4 576.4,384.2 548.0,376.1" fill="#3e26a8" stroke="#1a1a1a" stroke-width="2.0" stroke-linejoin="round"/><polygon points="576.4,558.4 619.3,551.9 619.3,377.7 576.4,384.2" fill="#0ab2d2" stroke="#1a1a1a" stroke-width="2.0" stroke-linejoin="round"/><polygon points="576.4,384.2 619.3,377.7 590.9,369.5 548.0,376.1" fill="#0ab2d2" stroke="#1a1a1a" stroke-width="2.0" stroke-linejoin="round"/><polygon points="637.2,552.3 665.5,560.4 665.5,426.9 637.2,418.8" fill="#3e26a8" stroke="#1a1a1a" stroke-width="2.0" stroke-linejoin="round"/><polygon points="665.5,560.4 708.4,553.8 708.4,420.3 665.5,426.9" fill="#2797eb" stroke="#1a1a1a" stroke-width="2.0" stroke-linejoin="round"/><polygon points="665.5,426.9 708.4,420.3 680.1,412.2 637.2,418.8" fill="#2797eb" stroke="#1a1a1a" stroke-width="2.0" stroke-linejoin="round"/><polygon points="726.3,554.2 754.6,562.4 754.6,437.5 726.3,429.4" fill="#3e26a8" stroke="#1a1a1a" stroke-width="2.0" stroke-linejoin="round"/><polygon points="754.6,562.4 797.6,555.8 797.6,431.0 754.6,437.5" fill="#2c8eef" stroke="#1a1a1a" stroke-width="2.0" stroke-linejoin="round"/><polygon points="754.6,437.5 797.6,431.0 769.2,422.9 726.3,429.4" fill="#2c8eef" stroke="#1a1a1a" stroke-width="2.0" stroke-linejoin="round"/><polygon points="815.4,556.2 843.8,564.3 843.8,424.8 815.4,416.7" fill="#3e26a8" stroke="#1a1a1a" stroke-width="2.0" stroke-linejoin="round"/><polygon points="843.8,564.3 886.7,557.8 886.7,418.3 843.8,424.8" fill="#239be7" stroke="#1a1a1a" stroke-width="2.0" stroke-linejoin="round"/><polygon points="843.8,424.8 886.7,418.3 858.3,410.2 815.4,416.7" fill="#239be7" stroke="#1a1a1a" stroke-width="2.0" stroke-linejoin="round"/><polygon points="904.5,558.2 932.9,566.3 932.9,407.1 904.5,399.0" fill="#3e26a8" stroke="#1a1a1a" stroke-width="2.0" stroke-linejoin="round"/><polygon points="932.9,566.3 975.8,559.8 975.8,400.6 932.9,407.1" fill="#15a7dc" stroke="#1a1a1a" stroke-width="2.0" stroke-linejoin="round"/><polygon points="932.9,407.1 975.8,400.6 947.4,392.4 904.5,399.0" fill="#15a7dc" stroke="#1a1a1a" stroke-width="2.0" stroke-linejoin="round"/><polygon points="993.6,560.2 1022.0,568.3 1022.0,390.4 993.6,382.3" fill="#3e26a8" stroke="#1a1a1a" stroke-width="2.0" stroke-linejoin="round"/><polygon points="1022.0,568.3 1064.9,561.7 1064.9,383.8 1022.0,390.4" fill="#08b4d0" stroke="#1a1a1a" stroke-width="2.0" stroke-linejoin="round"/><polygon points="1022.0,390.4 1064.9,383.8 1036.5,375.7 993.6,382.3" fill="#08b4d0" stroke="#1a1a1a" stroke-width="2.0" stroke-linejoin="round"/><polygon points="1082.7,562.1 1111.1,570.2 1111.1,380.7 1082.7,372.6" fill="#3e26a8" stroke="#1a1a1a" stroke-width="2.0" stroke-linejoin="round"/><polygon points="1111.1,570.2 1154.0,563.7 1154.0,374.1 1111.1,380.7" fill="#13b9c3" stroke="#1a1a1a" stroke-width="2.0" stroke-linejoin="round"/><polygon points="1111.1,380.7 1154.0,374.1 1125.6,366.0 1082.7,372.6" fill="#13b9c3" stroke="#1a1a1a" stroke-width="2.0" stroke-linejoin="round"/><polygon points="1171.8,564.1 1200.2,572.2 1200.2,382.3 1171.8,374.2" fill="#3e26a8" stroke="#1a1a1a" stroke-width="2.0" stroke-linejoin="round"/><polygon points="1200.2,572.2 1243.1,565.7 1243.1,375.8 1200.2,382.3" fill="#13b9c3" stroke="#1a1a1a" stroke-width="2.0" stroke-linejoin="round"/><polygon points="1200.2,382.3 1243.1,375.8 1214.7,367.7 1171.8,374.2" fill="#13b9c3" stroke="#1a1a1a" stroke-width="2.0" stroke-linejoin="round"/><polygon points="405.3,556.5 433.7,564.6 433.7,497.9 405.3,489.8" fill="#3e26a8" stroke="#1a1a1a" stroke-width="2.0" stroke-linejoin="round"/><polygon points="433.7,564.6 476.6,558.1 476.6,491.3 433.7,497.9" fill="#435af5" stroke="#1a1a1a" stroke-width="2.0" stroke-linejoin="round"/><polygon points="433.7,497.9 476.6,491.3 448.2,483.2 405.3,489.8" fill="#435af5" stroke="#1a1a1a" stroke-width="2.0" stroke-linejoin="round"/><polygon points="494.4,558.5 522.8,566.6 522.8,326.3 494.4,318.2" fill="#3e26a8" stroke="#1a1a1a" stroke-width="2.0" stroke-linejoin="round"/><polygon points="522.8,566.6 565.7,560.0 565.7,319.7 522.8,326.3" fill="#51c883" stroke="#1a1a1a" stroke-width="2.0" stroke-linejoin="round"/><polygon points="522.8,326.3 565.7,319.7 537.3,311.6 494.4,318.2" fill="#51c883" stroke="#1a1a1a" stroke-width="2.0" stroke-linejoin="round"/><polygon points="583.5,560.4 611.9,568.6 611.9,394.3 583.5,386.2" fill="#3e26a8" stroke="#1a1a1a" stroke-width="2.0" stroke-linejoin="round"/><polygon points="611.9,568.6 654.8,562.0 654.8,387.8 611.9,394.3" fill="#0ab2d2" stroke="#1a1a1a" stroke-width="2.0" stroke-linejoin="round"/><polygon points="611.9,394.3 654.8,387.8 626.4,379.7 583.5,386.2" fill="#0ab2d2" stroke="#1a1a1a" stroke-width="2.0" stroke-linejoin="round"/><polygon points="672.6,562.4 701.0,570.5 701.0,439.7 672.6,431.6" fill="#3e26a8" stroke="#1a1a1a" stroke-width="2.0" stroke-linejoin="round"/><polygon points="701.0,570.5 743.9,564.0 743.9,433.2 701.0,439.7" fill="#2994ec" stroke="#1a1a1a" stroke-width="2.0" stroke-linejoin="round"/><polygon points="701.0,439.7 743.9,433.2 715.5,425.0 672.6,431.6" fill="#2994ec" stroke="#1a1a1a" stroke-width="2.0" stroke-linejoin="round"/><polygon points="761.7,564.4 790.1,572.5 790.1,449.7 761.7,441.6" fill="#3e26a8" stroke="#1a1a1a" stroke-width="2.0" stroke-linejoin="round"/><polygon points="790.1,572.5 833.0,566.0 833.0,443.1 790.1,449.7" fill="#2d8df0" stroke="#1a1a1a" stroke-width="2.0" stroke-linejoin="round"/><polygon points="790.1,449.7 833.0,443.1 804.6,435.0 761.7,441.6" fill="#2d8df0" stroke="#1a1a1a" stroke-width="2.0" stroke-linejoin="round"/><polygon points="850.9,566.4 879.2,574.5 879.2,442.6 850.9,434.5" fill="#3e26a8" stroke="#1a1a1a" stroke-width="2.0" stroke-linejoin="round"/><polygon points="879.2,574.5 922.1,567.9 922.1,436.1 879.2,442.6" fill="#2895ec" stroke="#1a1a1a" stroke-width="2.0" stroke-linejoin="round"/><polygon points="879.2,442.6 922.1,436.1 893.8,428.0 850.9,434.5" fill="#2895ec" stroke="#1a1a1a" stroke-width="2.0" stroke-linejoin="round"/><polygon points="940.0,568.3 968.3,576.4 968.3,412.2 940.0,404.1" fill="#3e26a8" stroke="#1a1a1a" stroke-width="2.0" stroke-linejoin="round"/><polygon points="968.3,576.4 1011.3,569.9 1011.3,405.7 968.3,412.2" fill="#12abd9" stroke="#1a1a1a" stroke-width="2.0" stroke-linejoin="round"/><polygon points="968.3,412.2 1011.3,405.7 982.9,397.6 940.0,404.1" fill="#12abd9" stroke="#1a1a1a" stroke-width="2.0" stroke-linejoin="round"/><polygon points="1029.1,570.3 1057.5,578.4 1057.5,409.9 1029.1,401.7" fill="#3e26a8" stroke="#1a1a1a" stroke-width="2.0" stroke-linejoin="round"/><polygon points="1057.5,578.4 1100.4,571.9 1100.4,403.3 1057.5,409.9" fill="#0faed6" stroke="#1a1a1a" stroke-width="2.0" stroke-linejoin="round"/><polygon points="1057.5,409.9 1100.4,403.3 1072.0,395.2 1029.1,401.7" fill="#0faed6" stroke="#1a1a1a" stroke-width="2.0" stroke-linejoin="round"/><polygon points="1118.2,572.3 1146.6,580.4 1146.6,386.5 1118.2,378.4" fill="#3e26a8" stroke="#1a1a1a" stroke-width="2.0" stroke-linejoin="round"/><polygon points="1146.6,580.4 1189.5,573.8 1189.5,379.9 1146.6,386.5" fill="#16bac0" stroke="#1a1a1a" stroke-width="2.0" stroke-linejoin="round"/><polygon points="1146.6,386.5 1189.5,379.9 1161.1,371.8 1118.2,378.4" fill="#16bac0" stroke="#1a1a1a" stroke-width="2.0" stroke-linejoin="round"/><polygon points="1207.3,574.2 1235.7,582.3 1235.7,394.8 1207.3,386.7" fill="#3e26a8" stroke="#1a1a1a" stroke-width="2.0" stroke-linejoin="round"/><polygon points="1235.7,582.3 1278.6,575.8 1278.6,388.2 1235.7,394.8" fill="#10b8c6" stroke="#1a1a1a" stroke-width="2.0" stroke-linejoin="round"/><polygon points="1235.7,394.8 1278.6,388.2 1250.2,380.1 1207.3,386.7" fill="#10b8c6" stroke="#1a1a1a" stroke-width="2.0" stroke-linejoin="round"/><polygon points="440.8,566.6 469.2,574.8 469.2,516.3 440.8,508.2" fill="#3e26a8" stroke="#1a1a1a" stroke-width="2.0" stroke-linejoin="round"/><polygon points="469.2,574.8 512.1,568.2 512.1,509.8 469.2,516.3" fill="#4553f1" stroke="#1a1a1a" stroke-width="2.0" stroke-linejoin="round"/><polygon points="469.2,516.3 512.1,509.8 483.7,501.7 440.8,508.2" fill="#4553f1" stroke="#1a1a1a" stroke-width="2.0" stroke-linejoin="round"/><polygon points="529.9,568.6 558.3,576.7 558.3,339.8 529.9,331.7" fill="#3e26a8" stroke="#1a1a1a" stroke-width="2.0" stroke-linejoin="round"/><polygon points="558.3,576.7 601.2,570.2 601.2,333.2 558.3,339.8" fill="#4cc888" stroke="#1a1a1a" stroke-width="2.0" stroke-linejoin="round"/><polygon points="558.3,339.8 601.2,333.2 572.8,325.1 529.9,331.7" fill="#4cc888" stroke="#1a1a1a" stroke-width="2.0" stroke-linejoin="round"/><polygon points="619.0,570.6 647.4,578.7 647.4,404.5 619.0,396.4" fill="#3e26a8" stroke="#1a1a1a" stroke-width="2.0" stroke-linejoin="round"/><polygon points="647.4,578.7 690.3,572.2 690.3,397.9 647.4,404.5" fill="#0ab2d2" stroke="#1a1a1a" stroke-width="2.0" stroke-linejoin="round"/><polygon points="647.4,404.5 690.3,397.9 661.9,389.8 619.0,396.4" fill="#0ab2d2" stroke="#1a1a1a" stroke-width="2.0" stroke-linejoin="round"/><polygon points="708.1,572.6 736.5,580.7 736.5,452.5 708.1,444.4" fill="#3e26a8" stroke="#1a1a1a" stroke-width="2.0" stroke-linejoin="round"/><polygon points="736.5,580.7 779.4,574.1 779.4,446.0 736.5,452.5" fill="#2b91ee" stroke="#1a1a1a" stroke-width="2.0" stroke-linejoin="round"/><polygon points="736.5,452.5 779.4,446.0 751.0,437.9 708.1,444.4" fill="#2b91ee" stroke="#1a1a1a" stroke-width="2.0" stroke-linejoin="round"/><polygon points="797.2,574.5 825.6,582.6 825.6,461.8 797.2,453.7" fill="#3e26a8" stroke="#1a1a1a" stroke-width="2.0" stroke-linejoin="round"/><polygon points="825.6,582.6 868.5,576.1 868.5,455.3 825.6,461.8" fill="#2e8bf1" stroke="#1a1a1a" stroke-width="2.0" stroke-linejoin="round"/><polygon points="825.6,461.8 868.5,455.3 840.1,447.2 797.2,453.7" fill="#2e8bf1" stroke="#1a1a1a" stroke-width="2.0" stroke-linejoin="round"/><polygon points="886.3,576.5 914.7,584.6 914.7,459.4 886.3,451.3" fill="#3e26a8" stroke="#1a1a1a" stroke-width="2.0" stroke-linejoin="round"/><polygon points="914.7,584.6 957.6,578.1 957.6,452.9 914.7,459.4" fill="#2c8eef" stroke="#1a1a1a" stroke-width="2.0" stroke-linejoin="round"/><polygon points="914.7,459.4 957.6,452.9 929.2,444.8 886.3,451.3" fill="#2c8eef" stroke="#1a1a1a" stroke-width="2.0" stroke-linejoin="round"/><polygon points="975.4,578.5 1003.8,586.6 1003.8,428.7 975.4,420.6" fill="#3e26a8" stroke="#1a1a1a" stroke-width="2.0" stroke-linejoin="round"/><polygon points="1003.8,586.6 1046.7,580.0 1046.7,422.2 1003.8,428.7" fill="#16a6dd" stroke="#1a1a1a" stroke-width="2.0" stroke-linejoin="round"/><polygon points="1003.8,428.7 1046.7,422.2 1018.3,414.1 975.4,420.6" fill="#16a6dd" stroke="#1a1a1a" stroke-width="2.0" stroke-linejoin="round"/><polygon points="1064.6,580.4 1092.9,588.5 1092.9,427.7 1064.6,419.6" fill="#3e26a8" stroke="#1a1a1a" stroke-width="2.0" stroke-linejoin="round"/><polygon points="1092.9,588.5 1135.8,582.0 1135.8,421.1 1092.9,427.7" fill="#14a9db" stroke="#1a1a1a" stroke-width="2.0" stroke-linejoin="round"/><polygon points="1092.9,427.7 1135.8,421.1 1107.5,413.0 1064.6,419.6" fill="#14a9db" stroke="#1a1a1a" stroke-width="2.0" stroke-linejoin="round"/><polygon points="1153.7,582.4 1182.0,590.5 1182.0,408.3 1153.7,400.2" fill="#3e26a8" stroke="#1a1a1a" stroke-width="2.0" stroke-linejoin="round"/><polygon points="1182.0,590.5 1225.0,584.0 1225.0,401.8 1182.0,408.3" fill="#0cb6cc" stroke="#1a1a1a" stroke-width="2.0" stroke-linejoin="round"/><polygon points="1182.0,408.3 1225.0,401.8 1196.6,393.6 1153.7,400.2" fill="#0cb6cc" stroke="#1a1a1a" stroke-width="2.0" stroke-linejoin="round"/><polygon points="1242.8,584.4 1271.2,592.5 1271.2,402.2 1242.8,394.1" fill="#3e26a8" stroke="#1a1a1a" stroke-width="2.0" stroke-linejoin="round"/><polygon points="1271.2,592.5 1314.1,585.9 1314.1,395.7 1271.2,402.2" fill="#13b9c3" stroke="#1a1a1a" stroke-width="2.0" stroke-linejoin="round"/><polygon points="1271.2,402.2 1314.1,395.7 1285.7,387.6 1242.8,394.1" fill="#13b9c3" stroke="#1a1a1a" stroke-width="2.0" stroke-linejoin="round"/><polygon points="476.3,576.8 504.6,584.9 504.6,546.2 476.3,538.1" fill="#3e26a8" stroke="#1a1a1a" stroke-width="2.0" stroke-linejoin="round"/><polygon points="504.6,584.9 547.6,578.4 547.6,539.6 504.6,546.2" fill="#4642e1" stroke="#1a1a1a" stroke-width="2.0" stroke-linejoin="round"/><polygon points="504.6,546.2 547.6,539.6 519.2,531.5 476.3,538.1" fill="#4642e1" stroke="#1a1a1a" stroke-width="2.0" stroke-linejoin="round"/><polygon points="565.4,578.8 593.8,586.9 593.8,360.9 565.4,352.8" fill="#3e26a8" stroke="#1a1a1a" stroke-width="2.0" stroke-linejoin="round"/><polygon points="593.8,586.9 636.7,580.3 636.7,354.4 593.8,360.9" fill="#38c69a" stroke="#1a1a1a" stroke-width="2.0" stroke-linejoin="round"/><polygon points="593.8,360.9 636.7,354.4 608.3,346.3 565.4,352.8" fill="#38c69a" stroke="#1a1a1a" stroke-width="2.0" stroke-linejoin="round"/><polygon points="654.5,580.7 682.9,588.8 682.9,414.6 654.5,406.5" fill="#3e26a8" stroke="#1a1a1a" stroke-width="2.0" stroke-linejoin="round"/><polygon points="682.9,588.8 725.8,582.3 725.8,408.1 682.9,414.6" fill="#0ab2d2" stroke="#1a1a1a" stroke-width="2.0" stroke-linejoin="round"/><polygon points="682.9,414.6 725.8,408.1 697.4,400.0 654.5,406.5" fill="#0ab2d2" stroke="#1a1a1a" stroke-width="2.0" stroke-linejoin="round"/><polygon points="743.6,582.7 772.0,590.8 772.0,465.3 743.6,457.2" fill="#3e26a8" stroke="#1a1a1a" stroke-width="2.0" stroke-linejoin="round"/><polygon points="772.0,590.8 814.9,584.3 814.9,458.8 772.0,465.3" fill="#2b90ef" stroke="#1a1a1a" stroke-width="2.0" stroke-linejoin="round"/><polygon points="772.0,465.3 814.9,458.8 786.5,450.7 743.6,457.2" fill="#2b90ef" stroke="#1a1a1a" stroke-width="2.0" stroke-linejoin="round"/><polygon points="832.7,584.7 861.1,592.8 861.1,474.0 832.7,465.8" fill="#3e26a8" stroke="#1a1a1a" stroke-width="2.0" stroke-linejoin="round"/><polygon points="861.1,592.8 904.0,586.2 904.0,467.4 861.1,474.0" fill="#2f89f2" stroke="#1a1a1a" stroke-width="2.0" stroke-linejoin="round"/><polygon points="861.1,474.0 904.0,467.4 875.6,459.3 832.7,465.8" fill="#2f89f2" stroke="#1a1a1a" stroke-width="2.0" stroke-linejoin="round"/><polygon points="921.8,586.6 950.2,594.7 950.2,471.3 921.8,463.1" fill="#3e26a8" stroke="#1a1a1a" stroke-width="2.0" stroke-linejoin="round"/><polygon points="950.2,594.7 993.1,588.2 993.1,464.7 950.2,471.3" fill="#2d8df0" stroke="#1a1a1a" stroke-width="2.0" stroke-linejoin="round"/><polygon points="950.2,471.3 993.1,464.7 964.7,456.6 921.8,463.1" fill="#2d8df0" stroke="#1a1a1a" stroke-width="2.0" stroke-linejoin="round"/><polygon points="1010.9,588.6 1039.3,596.7 1039.3,450.2 1010.9,442.1" fill="#3e26a8" stroke="#1a1a1a" stroke-width="2.0" stroke-linejoin="round"/><polygon points="1039.3,596.7 1082.2,590.2 1082.2,443.7 1039.3,450.2" fill="#1e9fe3" stroke="#1a1a1a" stroke-width="2.0" stroke-linejoin="round"/><polygon points="1039.3,450.2 1082.2,443.7 1053.8,435.6 1010.9,442.1" fill="#1e9fe3" stroke="#1a1a1a" stroke-width="2.0" stroke-linejoin="round"/><polygon points="1100.0,590.6 1128.4,598.7 1128.4,445.2 1100.0,437.0" fill="#3e26a8" stroke="#1a1a1a" stroke-width="2.0" stroke-linejoin="round"/><polygon points="1128.4,598.7 1171.3,592.1 1171.3,438.6 1128.4,445.2" fill="#19a4df" stroke="#1a1a1a" stroke-width="2.0" stroke-linejoin="round"/><polygon points="1128.4,445.2 1171.3,438.6 1142.9,430.5 1100.0,437.0" fill="#19a4df" stroke="#1a1a1a" stroke-width="2.0" stroke-linejoin="round"/><polygon points="1189.1,592.5 1217.5,600.7 1217.5,436.4 1189.1,428.3" fill="#3e26a8" stroke="#1a1a1a" stroke-width="2.0" stroke-linejoin="round"/><polygon points="1217.5,600.7 1260.4,594.1 1260.4,429.9 1217.5,436.4" fill="#12abd9" stroke="#1a1a1a" stroke-width="2.0" stroke-linejoin="round"/><polygon points="1217.5,436.4 1260.4,429.9 1232.0,421.8 1189.1,428.3" fill="#12abd9" stroke="#1a1a1a" stroke-width="2.0" stroke-linejoin="round"/><polygon points="1278.3,594.5 1306.6,602.6 1306.6,409.4 1278.3,401.3" fill="#3e26a8" stroke="#1a1a1a" stroke-width="2.0" stroke-linejoin="round"/><polygon points="1306.6,602.6 1349.5,596.1 1349.5,402.8 1306.6,409.4" fill="#16bac0" stroke="#1a1a1a" stroke-width="2.0" stroke-linejoin="round"/><polygon points="1306.6,409.4 1349.5,402.8 1321.2,394.7 1278.3,401.3" fill="#16bac0" stroke="#1a1a1a" stroke-width="2.0" stroke-linejoin="round"/><polygon points="511.7,586.9 540.1,595.0 540.1,556.0 511.7,547.9" fill="#3e26a8" stroke="#1a1a1a" stroke-width="2.0" stroke-linejoin="round"/><polygon points="540.1,595.0 583.0,588.5 583.0,549.5 540.1,556.0" fill="#4642e1" stroke="#1a1a1a" stroke-width="2.0" stroke-linejoin="round"/><polygon points="540.1,556.0 583.0,549.5 554.6,541.3 511.7,547.9" fill="#4642e1" stroke="#1a1a1a" stroke-width="2.0" stroke-linejoin="round"/><polygon points="600.9,588.9 629.2,597.0 629.2,374.1 600.9,365.9" fill="#3e26a8" stroke="#1a1a1a" stroke-width="2.0" stroke-linejoin="round"/><polygon points="629.2,597.0 672.1,590.5 672.1,367.5 629.2,374.1" fill="#32c69f" stroke="#1a1a1a" stroke-width="2.0" stroke-linejoin="round"/><polygon points="629.2,374.1 672.1,367.5 643.8,359.4 600.9,365.9" fill="#32c69f" stroke="#1a1a1a" stroke-width="2.0" stroke-linejoin="round"/><polygon points="690.0,590.9 718.3,599.0 718.3,424.8 690.0,416.6" fill="#3e26a8" stroke="#1a1a1a" stroke-width="2.0" stroke-linejoin="round"/><polygon points="718.3,599.0 761.3,592.4 761.3,418.2 718.3,424.8" fill="#0ab2d2" stroke="#1a1a1a" stroke-width="2.0" stroke-linejoin="round"/><polygon points="718.3,424.8 761.3,418.2 732.9,410.1 690.0,416.6" fill="#0ab2d2" stroke="#1a1a1a" stroke-width="2.0" stroke-linejoin="round"/><polygon points="779.1,592.8 807.5,600.9 807.5,478.1 779.1,470.0" fill="#3e26a8" stroke="#1a1a1a" stroke-width="2.0" stroke-linejoin="round"/><polygon points="807.5,600.9 850.4,594.4 850.4,471.6 807.5,478.1" fill="#2d8df0" stroke="#1a1a1a" stroke-width="2.0" stroke-linejoin="round"/><polygon points="807.5,478.1 850.4,471.6 822.0,463.5 779.1,470.0" fill="#2d8df0" stroke="#1a1a1a" stroke-width="2.0" stroke-linejoin="round"/><polygon points="868.2,594.8 896.6,602.9 896.6,486.1 868.2,478.0" fill="#3e26a8" stroke="#1a1a1a" stroke-width="2.0" stroke-linejoin="round"/><polygon points="896.6,602.9 939.5,596.4 939.5,479.6 896.6,486.1" fill="#3087f3" stroke="#1a1a1a" stroke-width="2.0" stroke-linejoin="round"/><polygon points="896.6,486.1 939.5,479.6 911.1,471.5 868.2,478.0" fill="#3087f3" stroke="#1a1a1a" stroke-width="2.0" stroke-linejoin="round"/><polygon points="957.3,596.8 985.7,604.9 985.7,482.1 957.3,474.0" fill="#3e26a8" stroke="#1a1a1a" stroke-width="2.0" stroke-linejoin="round"/><polygon points="985.7,604.9 1028.6,598.3 1028.6,475.5 985.7,482.1" fill="#2d8df0" stroke="#1a1a1a" stroke-width="2.0" stroke-linejoin="round"/><polygon points="985.7,482.1 1028.6,475.5 1000.2,467.4 957.3,474.0" fill="#2d8df0" stroke="#1a1a1a" stroke-width="2.0" stroke-linejoin="round"/><polygon points="1046.4,598.7 1074.8,606.9 1074.8,460.3 1046.4,452.2" fill="#3e26a8" stroke="#1a1a1a" stroke-width="2.0" stroke-linejoin="round"/><polygon points="1074.8,606.9 1117.7,600.3 1117.7,453.8 1074.8,460.3" fill="#1e9fe3" stroke="#1a1a1a" stroke-width="2.0" stroke-linejoin="round"/><polygon points="1074.8,460.3 1117.7,453.8 1089.3,445.7 1046.4,452.2" fill="#1e9fe3" stroke="#1a1a1a" stroke-width="2.0" stroke-linejoin="round"/><polygon points="1135.5,600.7 1163.9,608.8 1163.9,463.0 1135.5,454.9" fill="#3e26a8" stroke="#1a1a1a" stroke-width="2.0" stroke-linejoin="round"/><polygon points="1163.9,608.8 1206.8,602.3 1206.8,456.4 1163.9,463.0" fill="#1e9fe3" stroke="#1a1a1a" stroke-width="2.0" stroke-linejoin="round"/><polygon points="1163.9,463.0 1206.8,456.4 1178.4,448.3 1135.5,454.9" fill="#1e9fe3" stroke="#1a1a1a" stroke-width="2.0" stroke-linejoin="round"/><polygon points="1224.6,602.7 1253.0,610.8 1253.0,449.9 1224.6,441.8" fill="#3e26a8" stroke="#1a1a1a" stroke-width="2.0" stroke-linejoin="round"/><polygon points="1253.0,610.8 1295.9,604.3 1295.9,443.4 1253.0,449.9" fill="#14a9db" stroke="#1a1a1a" stroke-width="2.0" stroke-linejoin="round"/><polygon points="1253.0,449.9 1295.9,443.4 1267.5,435.3 1224.6,441.8" fill="#14a9db" stroke="#1a1a1a" stroke-width="2.0" stroke-linejoin="round"/><polygon points="1313.7,604.7 1342.1,612.8 1342.1,423.2 1313.7,415.1" fill="#3e26a8" stroke="#1a1a1a" stroke-width="2.0" stroke-linejoin="round"/><polygon points="1342.1,612.8 1385.0,606.2 1385.0,416.7 1342.1,423.2" fill="#13b9c3" stroke="#1a1a1a" stroke-width="2.0" stroke-linejoin="round"/><polygon points="1342.1,423.2 1385.0,416.7 1356.6,408.5 1313.7,415.1" fill="#13b9c3" stroke="#1a1a1a" stroke-width="2.0" stroke-linejoin="round"/><polygon points="547.2,597.1 575.6,605.2 575.6,565.8 547.2,557.7" fill="#3e26a8" stroke="#1a1a1a" stroke-width="2.0" stroke-linejoin="round"/><polygon points="575.6,605.2 618.5,598.6 618.5,559.3 575.6,565.8" fill="#4643e3" stroke="#1a1a1a" stroke-width="2.0" stroke-linejoin="round"/><polygon points="575.6,565.8 618.5,559.3 590.1,551.1 547.2,557.7" fill="#4643e3" stroke="#1a1a1a" stroke-width="2.0" stroke-linejoin="round"/><polygon points="636.3,599.0 664.7,607.1 664.7,387.5 636.3,379.4" fill="#3e26a8" stroke="#1a1a1a" stroke-width="2.0" stroke-linejoin="round"/><polygon points="664.7,607.1 707.6,600.6 707.6,381.0 664.7,387.5" fill="#2fc5a2" stroke="#1a1a1a" stroke-width="2.0" stroke-linejoin="round"/><polygon points="664.7,387.5 707.6,381.0 679.2,372.9 636.3,379.4" fill="#2fc5a2" stroke="#1a1a1a" stroke-width="2.0" stroke-linejoin="round"/><polygon points="725.4,601.0 753.8,609.1 753.8,434.9 725.4,426.8" fill="#3e26a8" stroke="#1a1a1a" stroke-width="2.0" stroke-linejoin="round"/><polygon points="753.8,609.1 796.7,602.6 796.7,428.4 753.8,434.9" fill="#0ab2d2" stroke="#1a1a1a" stroke-width="2.0" stroke-linejoin="round"/><polygon points="753.8,434.9 796.7,428.4 768.3,420.2 725.4,426.8" fill="#0ab2d2" stroke="#1a1a1a" stroke-width="2.0" stroke-linejoin="round"/><polygon points="814.6,603.0 842.9,611.1 842.9,490.9 814.6,482.8" fill="#3e26a8" stroke="#1a1a1a" stroke-width="2.0" stroke-linejoin="round"/><polygon points="842.9,611.1 885.8,604.5 885.8,484.4 842.9,490.9" fill="#2f8af1" stroke="#1a1a1a" stroke-width="2.0" stroke-linejoin="round"/><polygon points="842.9,490.9 885.8,484.4 857.5,476.3 814.6,482.8" fill="#2f8af1" stroke="#1a1a1a" stroke-width="2.0" stroke-linejoin="round"/><polygon points="903.7,604.9 932.0,613.1 932.0,496.2 903.7,488.1" fill="#3e26a8" stroke="#1a1a1a" stroke-width="2.0" stroke-linejoin="round"/><polygon points="932.0,613.1 975.0,606.5 975.0,489.7 932.0,496.2" fill="#3087f3" stroke="#1a1a1a" stroke-width="2.0" stroke-linejoin="round"/><polygon points="932.0,496.2 975.0,489.7 946.6,481.6 903.7,488.1" fill="#3087f3" stroke="#1a1a1a" stroke-width="2.0" stroke-linejoin="round"/><polygon points="992.8,606.9 1021.2,615.0 1021.2,490.9 992.8,482.8" fill="#3e26a8" stroke="#1a1a1a" stroke-width="2.0" stroke-linejoin="round"/><polygon points="1021.2,615.0 1064.1,608.5 1064.1,484.3 1021.2,490.9" fill="#2c8eef" stroke="#1a1a1a" stroke-width="2.0" stroke-linejoin="round"/><polygon points="1021.2,490.9 1064.1,484.3 1035.7,476.2 992.8,482.8" fill="#2c8eef" stroke="#1a1a1a" stroke-width="2.0" stroke-linejoin="round"/><polygon points="1081.9,608.9 1110.3,617.0 1110.3,476.5 1081.9,468.4" fill="#3e26a8" stroke="#1a1a1a" stroke-width="2.0" stroke-linejoin="round"/><polygon points="1110.3,617.0 1153.2,610.5 1153.2,470.0 1110.3,476.5" fill="#239be7" stroke="#1a1a1a" stroke-width="2.0" stroke-linejoin="round"/><polygon points="1110.3,476.5 1153.2,470.0 1124.8,461.8 1081.9,468.4" fill="#239be7" stroke="#1a1a1a" stroke-width="2.0" stroke-linejoin="round"/><polygon points="1171.0,610.9 1199.4,619.0 1199.4,480.5 1171.0,472.3" fill="#3e26a8" stroke="#1a1a1a" stroke-width="2.0" stroke-linejoin="round"/><polygon points="1199.4,619.0 1242.3,612.4 1242.3,473.9 1199.4,480.5" fill="#249ae8" stroke="#1a1a1a" stroke-width="2.0" stroke-linejoin="round"/><polygon points="1199.4,480.5 1242.3,473.9 1213.9,465.8 1171.0,472.3" fill="#249ae8" stroke="#1a1a1a" stroke-width="2.0" stroke-linejoin="round"/><polygon points="1260.1,612.8 1288.5,620.9 1288.5,464.7 1260.1,456.6" fill="#3e26a8" stroke="#1a1a1a" stroke-width="2.0" stroke-linejoin="round"/><polygon points="1288.5,620.9 1331.4,614.4 1331.4,458.2 1288.5,464.7" fill="#18a5de" stroke="#1a1a1a" stroke-width="2.0" stroke-linejoin="round"/><polygon points="1288.5,464.7 1331.4,458.2 1303.0,450.1 1260.1,456.6" fill="#18a5de" stroke="#1a1a1a" stroke-width="2.0" stroke-linejoin="round"/><polygon points="1349.2,614.8 1377.6,622.9 1377.6,441.0 1349.2,432.9" fill="#3e26a8" stroke="#1a1a1a" stroke-width="2.0" stroke-linejoin="round"/><polygon points="1377.6,622.9 1420.5,616.4 1420.5,434.5 1377.6,441.0" fill="#0cb6cc" stroke="#1a1a1a" stroke-width="2.0" stroke-linejoin="round"/><polygon points="1377.6,441.0 1420.5,434.5 1392.1,426.4 1349.2,432.9" fill="#0cb6cc" stroke="#1a1a1a" stroke-width="2.0" stroke-linejoin="round"/><polygon points="582.7,607.2 611.1,615.3 611.1,585.3 582.7,577.2" fill="#3e26a8" stroke="#1a1a1a" stroke-width="2.0" stroke-linejoin="round"/><polygon points="611.1,615.3 654.0,608.8 654.0,578.7 611.1,585.3" fill="#443cd5" stroke="#1a1a1a" stroke-width="2.0" stroke-linejoin="round"/><polygon points="611.1,585.3 654.0,578.7 625.6,570.6 582.7,577.2" fill="#443cd5" stroke="#1a1a1a" stroke-width="2.0" stroke-linejoin="round"/><polygon points="671.8,609.2 700.2,617.3 700.2,399.3 671.8,391.2" fill="#3e26a8" stroke="#1a1a1a" stroke-width="2.0" stroke-linejoin="round"/><polygon points="700.2,617.3 743.1,610.7 743.1,392.8 700.2,399.3" fill="#2dc4a4" stroke="#1a1a1a" stroke-width="2.0" stroke-linejoin="round"/><polygon points="700.2,399.3 743.1,392.8 714.7,384.7 671.8,391.2" fill="#2dc4a4" stroke="#1a1a1a" stroke-width="2.0" stroke-linejoin="round"/><polygon points="760.9,611.1 789.3,619.3 789.3,445.0 760.9,436.9" fill="#3e26a8" stroke="#1a1a1a" stroke-width="2.0" stroke-linejoin="round"/><polygon points="789.3,619.3 832.2,612.7 832.2,438.5 789.3,445.0" fill="#0ab2d2" stroke="#1a1a1a" stroke-width="2.0" stroke-linejoin="round"/><polygon points="789.3,445.0 832.2,438.5 803.8,430.4 760.9,436.9" fill="#0ab2d2" stroke="#1a1a1a" stroke-width="2.0" stroke-linejoin="round"/><polygon points="850.0,613.1 878.4,621.2 878.4,501.7 850.0,493.6" fill="#3e26a8" stroke="#1a1a1a" stroke-width="2.0" stroke-linejoin="round"/><polygon points="878.4,621.2 921.3,614.7 921.3,495.2 878.4,501.7" fill="#2f8af1" stroke="#1a1a1a" stroke-width="2.0" stroke-linejoin="round"/><polygon points="878.4,501.7 921.3,495.2 892.9,487.1 850.0,493.6" fill="#2f8af1" stroke="#1a1a1a" stroke-width="2.0" stroke-linejoin="round"/><polygon points="939.1,615.1 967.5,623.2 967.5,506.4 939.1,498.3" fill="#3e26a8" stroke="#1a1a1a" stroke-width="2.0" stroke-linejoin="round"/><polygon points="967.5,623.2 1010.4,616.7 1010.4,499.8 967.5,506.4" fill="#3087f3" stroke="#1a1a1a" stroke-width="2.0" stroke-linejoin="round"/><polygon points="967.5,506.4 1010.4,499.8 982.0,491.7 939.1,498.3" fill="#3087f3" stroke="#1a1a1a" stroke-width="2.0" stroke-linejoin="round"/><polygon points="1028.3,617.1 1056.6,625.2 1056.6,498.3 1028.3,490.2" fill="#3e26a8" stroke="#1a1a1a" stroke-width="2.0" stroke-linejoin="round"/><polygon points="1056.6,625.2 1099.5,618.6 1099.5,491.8 1056.6,498.3" fill="#2b91ee" stroke="#1a1a1a" stroke-width="2.0" stroke-linejoin="round"/><polygon points="1056.6,498.3 1099.5,491.8 1071.2,483.7 1028.3,490.2" fill="#2b91ee" stroke="#1a1a1a" stroke-width="2.0" stroke-linejoin="round"/><polygon points="1117.4,619.0 1145.7,627.1 1145.7,493.0 1117.4,484.9" fill="#3e26a8" stroke="#1a1a1a" stroke-width="2.0" stroke-linejoin="round"/><polygon points="1145.7,627.1 1188.7,620.6 1188.7,486.4 1145.7,493.0" fill="#2797eb" stroke="#1a1a1a" stroke-width="2.0" stroke-linejoin="round"/><polygon points="1145.7,493.0 1188.7,486.4 1160.3,478.3 1117.4,484.9" fill="#2797eb" stroke="#1a1a1a" stroke-width="2.0" stroke-linejoin="round"/><polygon points="1206.5,621.0 1234.9,629.1 1234.9,494.6 1206.5,486.5" fill="#3e26a8" stroke="#1a1a1a" stroke-width="2.0" stroke-linejoin="round"/><polygon points="1234.9,629.1 1277.8,622.6 1277.8,488.1 1234.9,494.6" fill="#2797eb" stroke="#1a1a1a" stroke-width="2.0" stroke-linejoin="round"/><polygon points="1234.9,494.6 1277.8,488.1 1249.4,480.0 1206.5,486.5" fill="#2797eb" stroke="#1a1a1a" stroke-width="2.0" stroke-linejoin="round"/><polygon points="1295.6,623.0 1324.0,631.1 1324.0,482.6 1295.6,474.4" fill="#3e26a8" stroke="#1a1a1a" stroke-width="2.0" stroke-linejoin="round"/><polygon points="1324.0,631.1 1366.9,624.5 1366.9,476.0 1324.0,482.6" fill="#1da0e3" stroke="#1a1a1a" stroke-width="2.0" stroke-linejoin="round"/><polygon points="1324.0,482.6 1366.9,476.0 1338.5,467.9 1295.6,474.4" fill="#1da0e3" stroke="#1a1a1a" stroke-width="2.0" stroke-linejoin="round"/><polygon points="1384.7,624.9 1413.1,633.0 1413.1,464.2 1384.7,456.1" fill="#3e26a8" stroke="#1a1a1a" stroke-width="2.0" stroke-linejoin="round"/><polygon points="1413.1,633.0 1456.0,626.5 1456.0,457.6 1413.1,464.2" fill="#0faed6" stroke="#1a1a1a" stroke-width="2.0" stroke-linejoin="round"/><polygon points="1413.1,464.2 1456.0,457.6 1427.6,449.5 1384.7,456.1" fill="#0faed6" stroke="#1a1a1a" stroke-width="2.0" stroke-linejoin="round"/><polygon points="618.2,617.3 646.6,625.5 646.6,598.8 618.2,590.6" fill="#3e26a8" stroke="#1a1a1a" stroke-width="2.0" stroke-linejoin="round"/><polygon points="646.6,625.5 689.5,618.9 689.5,592.2 646.6,598.8" fill="#443ad0" stroke="#1a1a1a" stroke-width="2.0" stroke-linejoin="round"/><polygon points="646.6,598.8 689.5,592.2 661.1,584.1 618.2,590.6" fill="#443ad0" stroke="#1a1a1a" stroke-width="2.0" stroke-linejoin="round"/><polygon points="707.3,619.3 735.7,627.4 735.7,414.5 707.3,406.4" fill="#3e26a8" stroke="#1a1a1a" stroke-width="2.0" stroke-linejoin="round"/><polygon points="735.7,627.4 778.6,620.9 778.6,408.0 735.7,414.5" fill="#29c2a9" stroke="#1a1a1a" stroke-width="2.0" stroke-linejoin="round"/><polygon points="735.7,414.5 778.6,408.0 750.2,399.8 707.3,406.4" fill="#29c2a9" stroke="#1a1a1a" stroke-width="2.0" stroke-linejoin="round"/><polygon points="796.4,621.3 824.8,629.4 824.8,455.2 796.4,447.1" fill="#3e26a8" stroke="#1a1a1a" stroke-width="2.0" stroke-linejoin="round"/><polygon points="824.8,629.4 867.7,622.9 867.7,448.6 824.8,455.2" fill="#0ab2d2" stroke="#1a1a1a" stroke-width="2.0" stroke-linejoin="round"/><polygon points="824.8,455.2 867.7,448.6 839.3,440.5 796.4,447.1" fill="#0ab2d2" stroke="#1a1a1a" stroke-width="2.0" stroke-linejoin="round"/><polygon points="885.5,623.3 913.9,631.4 913.9,512.5 885.5,504.4" fill="#3e26a8" stroke="#1a1a1a" stroke-width="2.0" stroke-linejoin="round"/><polygon points="913.9,631.4 956.8,624.8 956.8,506.0 913.9,512.5" fill="#2f89f2" stroke="#1a1a1a" stroke-width="2.0" stroke-linejoin="round"/><polygon points="913.9,512.5 956.8,506.0 928.4,497.9 885.5,504.4" fill="#2f89f2" stroke="#1a1a1a" stroke-width="2.0" stroke-linejoin="round"/><polygon points="974.6,625.2 1003.0,633.3 1003.0,516.5 974.6,508.4" fill="#3e26a8" stroke="#1a1a1a" stroke-width="2.0" stroke-linejoin="round"/><polygon points="1003.0,633.3 1045.9,626.8 1045.9,510.0 1003.0,516.5" fill="#3087f3" stroke="#1a1a1a" stroke-width="2.0" stroke-linejoin="round"/><polygon points="1003.0,516.5 1045.9,510.0 1017.5,501.9 974.6,508.4" fill="#3087f3" stroke="#1a1a1a" stroke-width="2.0" stroke-linejoin="round"/><polygon points="1063.7,627.2 1092.1,635.3 1092.1,511.8 1063.7,503.7" fill="#3e26a8" stroke="#1a1a1a" stroke-width="2.0" stroke-linejoin="round"/><polygon points="1092.1,635.3 1135.0,628.8 1135.0,505.3 1092.1,511.8" fill="#2d8df0" stroke="#1a1a1a" stroke-width="2.0" stroke-linejoin="round"/><polygon points="1092.1,511.8 1135.0,505.3 1106.6,497.2 1063.7,503.7" fill="#2d8df0" stroke="#1a1a1a" stroke-width="2.0" stroke-linejoin="round"/><polygon points="1152.8,629.2 1181.2,637.3 1181.2,509.1 1152.8,501.0" fill="#3e26a8" stroke="#1a1a1a" stroke-width="2.0" stroke-linejoin="round"/><polygon points="1181.2,637.3 1224.1,630.7 1224.1,502.6 1181.2,509.1" fill="#2b91ee" stroke="#1a1a1a" stroke-width="2.0" stroke-linejoin="round"/><polygon points="1181.2,509.1 1224.1,502.6 1195.7,494.5 1152.8,501.0" fill="#2b91ee" stroke="#1a1a1a" stroke-width="2.0" stroke-linejoin="round"/><polygon points="1242.0,631.1 1270.3,639.2 1270.3,504.7 1242.0,496.6" fill="#3e26a8" stroke="#1a1a1a" stroke-width="2.0" stroke-linejoin="round"/><polygon points="1270.3,639.2 1313.2,632.7 1313.2,498.2 1270.3,504.7" fill="#2797eb" stroke="#1a1a1a" stroke-width="2.0" stroke-linejoin="round"/><polygon points="1270.3,504.7 1313.2,498.2 1284.9,490.1 1242.0,496.6" fill="#2797eb" stroke="#1a1a1a" stroke-width="2.0" stroke-linejoin="round"/><polygon points="1331.1,633.1 1359.4,641.2 1359.4,489.4 1331.1,481.2" fill="#3e26a8" stroke="#1a1a1a" stroke-width="2.0" stroke-linejoin="round"/><polygon points="1359.4,641.2 1402.4,634.7 1402.4,482.8 1359.4,489.4" fill="#1aa3e0" stroke="#1a1a1a" stroke-width="2.0" stroke-linejoin="round"/><polygon points="1359.4,489.4 1402.4,482.8 1374.0,474.7 1331.1,481.2" fill="#1aa3e0" stroke="#1a1a1a" stroke-width="2.0" stroke-linejoin="round"/><polygon points="1420.2,635.1 1448.6,643.2 1448.6,478.3 1420.2,470.2" fill="#3e26a8" stroke="#1a1a1a" stroke-width="2.0" stroke-linejoin="round"/><polygon points="1448.6,643.2 1491.5,636.6 1491.5,471.8 1448.6,478.3" fill="#11acd8" stroke="#1a1a1a" stroke-width="2.0" stroke-linejoin="round"/><polygon points="1448.6,478.3 1491.5,471.8 1463.1,463.7 1420.2,470.2" fill="#11acd8" stroke="#1a1a1a" stroke-width="2.0" stroke-linejoin="round"/><polygon points="653.7,627.5 682.0,635.6 682.0,608.9 653.7,600.8" fill="#3e26a8" stroke="#1a1a1a" stroke-width="2.0" stroke-linejoin="round"/><polygon points="682.0,635.6 725.0,629.1 725.0,602.4 682.0,608.9" fill="#443ad0" stroke="#1a1a1a" stroke-width="2.0" stroke-linejoin="round"/><polygon points="682.0,608.9 725.0,602.4 696.6,594.2 653.7,600.8" fill="#443ad0" stroke="#1a1a1a" stroke-width="2.0" stroke-linejoin="round"/><polygon points="742.8,629.5 771.2,637.6 771.2,430.0 742.8,421.9" fill="#3e26a8" stroke="#1a1a1a" stroke-width="2.0" stroke-linejoin="round"/><polygon points="771.2,637.6 814.1,631.0 814.1,423.4 771.2,430.0" fill="#23c0b0" stroke="#1a1a1a" stroke-width="2.0" stroke-linejoin="round"/><polygon points="771.2,430.0 814.1,423.4 785.7,415.3 742.8,421.9" fill="#23c0b0" stroke="#1a1a1a" stroke-width="2.0" stroke-linejoin="round"/><polygon points="831.9,631.4 860.3,639.5 860.3,465.3 831.9,457.2" fill="#3e26a8" stroke="#1a1a1a" stroke-width="2.0" stroke-linejoin="round"/><polygon points="860.3,639.5 903.2,633.0 903.2,458.8 860.3,465.3" fill="#0ab2d2" stroke="#1a1a1a" stroke-width="2.0" stroke-linejoin="round"/><polygon points="860.3,465.3 903.2,458.8 874.8,450.7 831.9,457.2" fill="#0ab2d2" stroke="#1a1a1a" stroke-width="2.0" stroke-linejoin="round"/><polygon points="921.0,633.4 949.4,641.5 949.4,523.4 921.0,515.2" fill="#3e26a8" stroke="#1a1a1a" stroke-width="2.0" stroke-linejoin="round"/><polygon points="949.4,641.5 992.3,635.0 992.3,516.8 949.4,523.4" fill="#2f89f2" stroke="#1a1a1a" stroke-width="2.0" stroke-linejoin="round"/><polygon points="949.4,523.4 992.3,516.8 963.9,508.7 921.0,515.2" fill="#2f89f2" stroke="#1a1a1a" stroke-width="2.0" stroke-linejoin="round"/><polygon points="1010.1,635.4 1038.5,643.5 1038.5,526.7 1010.1,518.6" fill="#3e26a8" stroke="#1a1a1a" stroke-width="2.0" stroke-linejoin="round"/><polygon points="1038.5,643.5 1081.4,636.9 1081.4,520.1 1038.5,526.7" fill="#3087f3" stroke="#1a1a1a" stroke-width="2.0" stroke-linejoin="round"/><polygon points="1038.5,526.7 1081.4,520.1 1053.0,512.0 1010.1,518.6" fill="#3087f3" stroke="#1a1a1a" stroke-width="2.0" stroke-linejoin="round"/><polygon points="1099.2,637.3 1127.6,645.4 1127.6,525.0 1099.2,516.8" fill="#3e26a8" stroke="#1a1a1a" stroke-width="2.0" stroke-linejoin="round"/><polygon points="1127.6,645.4 1170.5,638.9 1170.5,518.4 1127.6,525.0" fill="#2e8bf1" stroke="#1a1a1a" stroke-width="2.0" stroke-linejoin="round"/><polygon points="1127.6,525.0 1170.5,518.4 1142.1,510.3 1099.2,516.8" fill="#2e8bf1" stroke="#1a1a1a" stroke-width="2.0" stroke-linejoin="round"/><polygon points="1188.3,639.3 1216.7,647.4 1216.7,524.6 1188.3,516.5" fill="#3e26a8" stroke="#1a1a1a" stroke-width="2.0" stroke-linejoin="round"/><polygon points="1216.7,647.4 1259.6,640.9 1259.6,518.1 1216.7,524.6" fill="#2d8df0" stroke="#1a1a1a" stroke-width="2.0" stroke-linejoin="round"/><polygon points="1216.7,524.6 1259.6,518.1 1231.2,509.9 1188.3,516.5" fill="#2d8df0" stroke="#1a1a1a" stroke-width="2.0" stroke-linejoin="round"/><polygon points="1277.4,641.3 1305.8,649.4 1305.8,514.9 1277.4,506.8" fill="#3e26a8" stroke="#1a1a1a" stroke-width="2.0" stroke-linejoin="round"/><polygon points="1305.8,649.4 1348.7,642.8 1348.7,508.3 1305.8,514.9" fill="#2797eb" stroke="#1a1a1a" stroke-width="2.0" stroke-linejoin="round"/><polygon points="1305.8,514.9 1348.7,508.3 1320.3,500.2 1277.4,506.8" fill="#2797eb" stroke="#1a1a1a" stroke-width="2.0" stroke-linejoin="round"/><polygon points="1366.5,643.2 1394.9,651.4 1394.9,495.5 1366.5,487.4" fill="#3e26a8" stroke="#1a1a1a" stroke-width="2.0" stroke-linejoin="round"/><polygon points="1394.9,651.4 1437.8,644.8 1437.8,489.0 1394.9,495.5" fill="#18a5de" stroke="#1a1a1a" stroke-width="2.0" stroke-linejoin="round"/><polygon points="1394.9,495.5 1437.8,489.0 1409.4,480.8 1366.5,487.4" fill="#18a5de" stroke="#1a1a1a" stroke-width="2.0" stroke-linejoin="round"/><polygon points="1455.7,645.2 1484.0,653.3 1484.0,481.8 1455.7,473.7" fill="#3e26a8" stroke="#1a1a1a" stroke-width="2.0" stroke-linejoin="round"/><polygon points="1484.0,653.3 1526.9,646.8 1526.9,475.2 1484.0,481.8" fill="#0cb0d4" stroke="#1a1a1a" stroke-width="2.0" stroke-linejoin="round"/><polygon points="1484.0,481.8 1526.9,475.2 1498.6,467.1 1455.7,473.7" fill="#0cb0d4" stroke="#1a1a1a" stroke-width="2.0" stroke-linejoin="round"/><polygon points="689.1,637.6 717.5,645.7 717.5,619.0 689.1,610.9" fill="#3e26a8" stroke="#1a1a1a" stroke-width="2.0" stroke-linejoin="round"/><polygon points="717.5,645.7 760.4,639.2 760.4,612.5 717.5,619.0" fill="#443ad0" stroke="#1a1a1a" stroke-width="2.0" stroke-linejoin="round"/><polygon points="717.5,619.0 760.4,612.5 732.0,604.4 689.1,610.9" fill="#443ad0" stroke="#1a1a1a" stroke-width="2.0" stroke-linejoin="round"/><polygon points="778.3,639.6 806.6,647.7 806.6,456.8 778.3,448.7" fill="#3e26a8" stroke="#1a1a1a" stroke-width="2.0" stroke-linejoin="round"/><polygon points="806.6,647.7 849.5,641.2 849.5,450.3 806.6,456.8" fill="#14bac1" stroke="#1a1a1a" stroke-width="2.0" stroke-linejoin="round"/><polygon points="806.6,456.8 849.5,450.3 821.2,442.2 778.3,448.7" fill="#14bac1" stroke="#1a1a1a" stroke-width="2.0" stroke-linejoin="round"/><polygon points="867.4,641.6 895.7,649.7 895.7,475.5 867.4,467.3" fill="#3e26a8" stroke="#1a1a1a" stroke-width="2.0" stroke-linejoin="round"/><polygon points="895.7,649.7 938.7,643.1 938.7,468.9 895.7,475.5" fill="#0ab2d2" stroke="#1a1a1a" stroke-width="2.0" stroke-linejoin="round"/><polygon points="895.7,475.5 938.7,468.9 910.3,460.8 867.4,467.3" fill="#0ab2d2" stroke="#1a1a1a" stroke-width="2.0" stroke-linejoin="round"/><polygon points="956.5,643.5 984.9,651.6 984.9,534.2 956.5,526.1" fill="#3e26a8" stroke="#1a1a1a" stroke-width="2.0" stroke-linejoin="round"/><polygon points="984.9,651.6 1027.8,645.1 1027.8,527.6 984.9,534.2" fill="#2f89f2" stroke="#1a1a1a" stroke-width="2.0" stroke-linejoin="round"/><polygon points="984.9,534.2 1027.8,527.6 999.4,519.5 956.5,526.1" fill="#2f89f2" stroke="#1a1a1a" stroke-width="2.0" stroke-linejoin="round"/><polygon points="1045.6,645.5 1074.0,653.6 1074.0,536.8 1045.6,528.7" fill="#3e26a8" stroke="#1a1a1a" stroke-width="2.0" stroke-linejoin="round"/><polygon points="1074.0,653.6 1116.9,647.1 1116.9,530.3 1074.0,536.8" fill="#3087f3" stroke="#1a1a1a" stroke-width="2.0" stroke-linejoin="round"/><polygon points="1074.0,536.8 1116.9,530.3 1088.5,522.2 1045.6,528.7" fill="#3087f3" stroke="#1a1a1a" stroke-width="2.0" stroke-linejoin="round"/><polygon points="1134.7,647.5 1163.1,655.6 1163.1,543.1 1134.7,535.0" fill="#3e26a8" stroke="#1a1a1a" stroke-width="2.0" stroke-linejoin="round"/><polygon points="1163.1,655.6 1206.0,649.0 1206.0,536.6 1163.1,543.1" fill="#3383f5" stroke="#1a1a1a" stroke-width="2.0" stroke-linejoin="round"/><polygon points="1163.1,543.1 1206.0,536.6 1177.6,528.5 1134.7,535.0" fill="#3383f5" stroke="#1a1a1a" stroke-width="2.0" stroke-linejoin="round"/><polygon points="1223.8,649.4 1252.2,657.6 1252.2,538.7 1223.8,530.6" fill="#3e26a8" stroke="#1a1a1a" stroke-width="2.0" stroke-linejoin="round"/><polygon points="1252.2,657.6 1295.1,651.0 1295.1,532.2 1252.2,538.7" fill="#2f89f2" stroke="#1a1a1a" stroke-width="2.0" stroke-linejoin="round"/><polygon points="1252.2,538.7 1295.1,532.2 1266.7,524.1 1223.8,530.6" fill="#2f89f2" stroke="#1a1a1a" stroke-width="2.0" stroke-linejoin="round"/><polygon points="1312.9,651.4 1341.3,659.5 1341.3,525.0 1312.9,516.9" fill="#3e26a8" stroke="#1a1a1a" stroke-width="2.0" stroke-linejoin="round"/><polygon points="1341.3,659.5 1384.2,653.0 1384.2,518.5 1341.3,525.0" fill="#2797eb" stroke="#1a1a1a" stroke-width="2.0" stroke-linejoin="round"/><polygon points="1341.3,525.0 1384.2,518.5 1355.8,510.4 1312.9,516.9" fill="#2797eb" stroke="#1a1a1a" stroke-width="2.0" stroke-linejoin="round"/><polygon points="1402.0,653.4 1430.4,661.5 1430.4,517.3 1402.0,509.2" fill="#3e26a8" stroke="#1a1a1a" stroke-width="2.0" stroke-linejoin="round"/><polygon points="1430.4,661.5 1473.3,655.0 1473.3,510.8 1430.4,517.3" fill="#1f9ee4" stroke="#1a1a1a" stroke-width="2.0" stroke-linejoin="round"/><polygon points="1430.4,517.3 1473.3,510.8 1444.9,502.7 1402.0,509.2" fill="#1f9ee4" stroke="#1a1a1a" stroke-width="2.0" stroke-linejoin="round"/><polygon points="1491.1,655.4 1519.5,663.5 1519.5,499.6 1491.1,491.5" fill="#3e26a8" stroke="#1a1a1a" stroke-width="2.0" stroke-linejoin="round"/><polygon points="1519.5,663.5 1562.4,656.9 1562.4,493.1 1519.5,499.6" fill="#12abd9" stroke="#1a1a1a" stroke-width="2.0" stroke-linejoin="round"/><polygon points="1519.5,499.6 1562.4,493.1 1534.0,484.9 1491.1,491.5" fill="#12abd9" stroke="#1a1a1a" stroke-width="2.0" stroke-linejoin="round"/><polygon points="724.6,647.8 753.0,655.9 753.0,629.2 724.6,621.1" fill="#3e26a8" stroke="#1a1a1a" stroke-width="2.0" stroke-linejoin="round"/><polygon points="753.0,655.9 795.9,649.3 795.9,622.6 753.0,629.2" fill="#443ad0" stroke="#1a1a1a" stroke-width="2.0" stroke-linejoin="round"/><polygon points="753.0,629.2 795.9,622.6 767.5,614.5 724.6,621.1" fill="#443ad0" stroke="#1a1a1a" stroke-width="2.0" stroke-linejoin="round"/><polygon points="813.7,649.7 842.1,657.8 842.1,480.6 813.7,472.5" fill="#3e26a8" stroke="#1a1a1a" stroke-width="2.0" stroke-linejoin="round"/><polygon points="842.1,657.8 885.0,651.3 885.0,474.1 842.1,480.6" fill="#08b4d0" stroke="#1a1a1a" stroke-width="2.0" stroke-linejoin="round"/><polygon points="842.1,480.6 885.0,474.1 856.6,466.0 813.7,472.5" fill="#08b4d0" stroke="#1a1a1a" stroke-width="2.0" stroke-linejoin="round"/><polygon points="902.8,651.7 931.2,659.8 931.2,485.6 902.8,477.5" fill="#3e26a8" stroke="#1a1a1a" stroke-width="2.0" stroke-linejoin="round"/><polygon points="931.2,659.8 974.1,653.3 974.1,479.1 931.2,485.6" fill="#0ab2d2" stroke="#1a1a1a" stroke-width="2.0" stroke-linejoin="round"/><polygon points="931.2,485.6 974.1,479.1 945.7,470.9 902.8,477.5" fill="#0ab2d2" stroke="#1a1a1a" stroke-width="2.0" stroke-linejoin="round"/><polygon points="992.0,653.7 1020.3,661.8 1020.3,545.0 992.0,536.9" fill="#3e26a8" stroke="#1a1a1a" stroke-width="2.0" stroke-linejoin="round"/><polygon points="1020.3,661.8 1063.2,655.2 1063.2,538.4 1020.3,545.0" fill="#3087f3" stroke="#1a1a1a" stroke-width="2.0" stroke-linejoin="round"/><polygon points="1020.3,545.0 1063.2,538.4 1034.9,530.3 992.0,536.9" fill="#3087f3" stroke="#1a1a1a" stroke-width="2.0" stroke-linejoin="round"/><polygon points="1081.1,655.6 1109.4,663.8 1109.4,548.9 1081.1,540.8" fill="#3e26a8" stroke="#1a1a1a" stroke-width="2.0" stroke-linejoin="round"/><polygon points="1109.4,663.8 1152.4,657.2 1152.4,542.4 1109.4,548.9" fill="#3186f3" stroke="#1a1a1a" stroke-width="2.0" stroke-linejoin="round"/><polygon points="1109.4,548.9 1152.4,542.4 1124.0,534.3 1081.1,540.8" fill="#3186f3" stroke="#1a1a1a" stroke-width="2.0" stroke-linejoin="round"/><polygon points="1170.2,657.6 1198.6,665.7 1198.6,560.3 1170.2,552.1" fill="#3e26a8" stroke="#1a1a1a" stroke-width="2.0" stroke-linejoin="round"/><polygon points="1198.6,665.7 1241.5,659.2 1241.5,553.7 1198.6,560.3" fill="#367df8" stroke="#1a1a1a" stroke-width="2.0" stroke-linejoin="round"/><polygon points="1198.6,560.3 1241.5,553.7 1213.1,545.6 1170.2,552.1" fill="#367df8" stroke="#1a1a1a" stroke-width="2.0" stroke-linejoin="round"/><polygon points="1259.3,659.6 1287.7,667.7 1287.7,548.9 1259.3,540.8" fill="#3e26a8" stroke="#1a1a1a" stroke-width="2.0" stroke-linejoin="round"/><polygon points="1287.7,667.7 1330.6,661.2 1330.6,542.3 1287.7,548.9" fill="#2f89f2" stroke="#1a1a1a" stroke-width="2.0" stroke-linejoin="round"/><polygon points="1287.7,548.9 1330.6,542.3 1302.2,534.2 1259.3,540.8" fill="#2f89f2" stroke="#1a1a1a" stroke-width="2.0" stroke-linejoin="round"/><polygon points="1348.4,661.6 1376.8,669.7 1376.8,535.2 1348.4,527.1" fill="#3e26a8" stroke="#1a1a1a" stroke-width="2.0" stroke-linejoin="round"/><polygon points="1376.8,669.7 1419.7,663.1 1419.7,528.6 1376.8,535.2" fill="#2797eb" stroke="#1a1a1a" stroke-width="2.0" stroke-linejoin="round"/><polygon points="1376.8,535.2 1419.7,528.6 1391.3,520.5 1348.4,527.1" fill="#2797eb" stroke="#1a1a1a" stroke-width="2.0" stroke-linejoin="round"/><polygon points="1437.5,663.5 1465.9,671.6 1465.9,530.1 1437.5,522.0" fill="#3e26a8" stroke="#1a1a1a" stroke-width="2.0" stroke-linejoin="round"/><polygon points="1465.9,671.6 1508.8,665.1 1508.8,523.6 1465.9,530.1" fill="#229ce6" stroke="#1a1a1a" stroke-width="2.0" stroke-linejoin="round"/><polygon points="1465.9,530.1 1508.8,523.6 1480.4,515.5 1437.5,522.0" fill="#229ce6" stroke="#1a1a1a" stroke-width="2.0" stroke-linejoin="round"/><polygon points="1526.6,665.5 1555.0,673.6 1555.0,513.4 1526.6,505.3" fill="#3e26a8" stroke="#1a1a1a" stroke-width="2.0" stroke-linejoin="round"/><polygon points="1555.0,673.6 1597.9,667.1 1597.9,506.9 1555.0,513.4" fill="#14a9db" stroke="#1a1a1a" stroke-width="2.0" stroke-linejoin="round"/><polygon points="1555.0,513.4 1597.9,506.9 1569.5,498.8 1526.6,505.3" fill="#14a9db" stroke="#1a1a1a" stroke-width="2.0" stroke-linejoin="round"/><polygon points="760.1,657.9 788.5,666.0 788.5,639.3 760.1,631.2" fill="#3e26a8" stroke="#1a1a1a" stroke-width="2.0" stroke-linejoin="round"/><polygon points="788.5,666.0 831.4,659.5 831.4,632.8 788.5,639.3" fill="#443ad0" stroke="#1a1a1a" stroke-width="2.0" stroke-linejoin="round"/><polygon points="788.5,639.3 831.4,632.8 803.0,624.7 760.1,631.2" fill="#443ad0" stroke="#1a1a1a" stroke-width="2.0" stroke-linejoin="round"/><polygon points="849.2,659.9 877.6,668.0 877.6,499.1 849.2,491.0" fill="#3e26a8" stroke="#1a1a1a" stroke-width="2.0" stroke-linejoin="round"/><polygon points="877.6,668.0 920.5,661.4 920.5,492.6 877.6,499.1" fill="#0faed6" stroke="#1a1a1a" stroke-width="2.0" stroke-linejoin="round"/><polygon points="877.6,499.1 920.5,492.6 892.1,484.5 849.2,491.0" fill="#0faed6" stroke="#1a1a1a" stroke-width="2.0" stroke-linejoin="round"/><polygon points="938.3,661.8 966.7,670.0 966.7,493.1 938.3,485.0" fill="#3e26a8" stroke="#1a1a1a" stroke-width="2.0" stroke-linejoin="round"/><polygon points="966.7,670.0 1009.6,663.4 1009.6,486.5 966.7,493.1" fill="#08b4d0" stroke="#1a1a1a" stroke-width="2.0" stroke-linejoin="round"/><polygon points="966.7,493.1 1009.6,486.5 981.2,478.4 938.3,485.0" fill="#08b4d0" stroke="#1a1a1a" stroke-width="2.0" stroke-linejoin="round"/><polygon points="1027.4,663.8 1055.8,671.9 1055.8,557.1 1027.4,549.0" fill="#3e26a8" stroke="#1a1a1a" stroke-width="2.0" stroke-linejoin="round"/><polygon points="1055.8,671.9 1098.7,665.4 1098.7,550.6 1055.8,557.1" fill="#3186f3" stroke="#1a1a1a" stroke-width="2.0" stroke-linejoin="round"/><polygon points="1055.8,557.1 1098.7,550.6 1070.3,542.5 1027.4,549.0" fill="#3186f3" stroke="#1a1a1a" stroke-width="2.0" stroke-linejoin="round"/><polygon points="1116.5,665.8 1144.9,673.9 1144.9,561.1 1116.5,553.0" fill="#3e26a8" stroke="#1a1a1a" stroke-width="2.0" stroke-linejoin="round"/><polygon points="1144.9,673.9 1187.8,667.4 1187.8,554.6 1144.9,561.1" fill="#3284f4" stroke="#1a1a1a" stroke-width="2.0" stroke-linejoin="round"/><polygon points="1144.9,561.1 1187.8,554.6 1159.4,546.4 1116.5,553.0" fill="#3284f4" stroke="#1a1a1a" stroke-width="2.0" stroke-linejoin="round"/><polygon points="1205.7,667.8 1234.0,675.9 1234.0,580.1 1205.7,572.0" fill="#3e26a8" stroke="#1a1a1a" stroke-width="2.0" stroke-linejoin="round"/><polygon points="1234.0,675.9 1276.9,669.3 1276.9,573.5 1234.0,580.1" fill="#3b75fc" stroke="#1a1a1a" stroke-width="2.0" stroke-linejoin="round"/><polygon points="1234.0,580.1 1276.9,573.5 1248.6,565.4 1205.7,572.0" fill="#3b75fc" stroke="#1a1a1a" stroke-width="2.0" stroke-linejoin="round"/><polygon points="1294.8,669.7 1323.1,677.8 1323.1,559.0 1294.8,550.9" fill="#3e26a8" stroke="#1a1a1a" stroke-width="2.0" stroke-linejoin="round"/><polygon points="1323.1,677.8 1366.1,671.3 1366.1,552.5 1323.1,559.0" fill="#2f89f2" stroke="#1a1a1a" stroke-width="2.0" stroke-linejoin="round"/><polygon points="1323.1,559.0 1366.1,552.5 1337.7,544.4 1294.8,550.9" fill="#2f89f2" stroke="#1a1a1a" stroke-width="2.0" stroke-linejoin="round"/><polygon points="1383.9,671.7 1412.3,679.8 1412.3,545.3 1383.9,537.2" fill="#3e26a8" stroke="#1a1a1a" stroke-width="2.0" stroke-linejoin="round"/><polygon points="1412.3,679.8 1455.2,673.3 1455.2,538.8 1412.3,545.3" fill="#2797eb" stroke="#1a1a1a" stroke-width="2.0" stroke-linejoin="round"/><polygon points="1412.3,545.3 1455.2,538.8 1426.8,530.7 1383.9,537.2" fill="#2797eb" stroke="#1a1a1a" stroke-width="2.0" stroke-linejoin="round"/><polygon points="1473.0,673.7 1501.4,681.8 1501.4,556.3 1473.0,548.2" fill="#3e26a8" stroke="#1a1a1a" stroke-width="2.0" stroke-linejoin="round"/><polygon points="1501.4,681.8 1544.3,675.2 1544.3,549.7 1501.4,556.3" fill="#2b90ef" stroke="#1a1a1a" stroke-width="2.0" stroke-linejoin="round"/><polygon points="1501.4,556.3 1544.3,549.7 1515.9,541.6 1473.0,548.2" fill="#2b90ef" stroke="#1a1a1a" stroke-width="2.0" stroke-linejoin="round"/><polygon points="1562.1,675.6 1590.5,683.7 1590.5,537.2 1562.1,529.1" fill="#3e26a8" stroke="#1a1a1a" stroke-width="2.0" stroke-linejoin="round"/><polygon points="1590.5,683.7 1633.4,677.2 1633.4,530.7 1590.5,537.2" fill="#1e9fe3" stroke="#1a1a1a" stroke-width="2.0" stroke-linejoin="round"/><polygon points="1590.5,537.2 1633.4,530.7 1605.0,522.6 1562.1,529.1" fill="#1e9fe3" stroke="#1a1a1a" stroke-width="2.0" stroke-linejoin="round"/><polygon points="795.6,668.0 824.0,676.2 824.0,646.1 795.6,638.0" fill="#3e26a8" stroke="#1a1a1a" stroke-width="2.0" stroke-linejoin="round"/><polygon points="824.0,676.2 866.9,669.6 866.9,639.6 824.0,646.1" fill="#443cd5" stroke="#1a1a1a" stroke-width="2.0" stroke-linejoin="round"/><polygon points="824.0,646.1 866.9,639.6 838.5,631.5 795.6,638.0" fill="#443cd5" stroke="#1a1a1a" stroke-width="2.0" stroke-linejoin="round"/><polygon points="884.7,670.0 913.1,678.1 913.1,515.9 884.7,507.8" fill="#3e26a8" stroke="#1a1a1a" stroke-width="2.0" stroke-linejoin="round"/><polygon points="913.1,678.1 956.0,671.6 956.0,509.4 913.1,515.9" fill="#13aada" stroke="#1a1a1a" stroke-width="2.0" stroke-linejoin="round"/><polygon points="913.1,515.9 956.0,509.4 927.6,501.3 884.7,507.8" fill="#13aada" stroke="#1a1a1a" stroke-width="2.0" stroke-linejoin="round"/><polygon points="973.8,672.0 1002.2,680.1 1002.2,507.9 973.8,499.8" fill="#3e26a8" stroke="#1a1a1a" stroke-width="2.0" stroke-linejoin="round"/><polygon points="1002.2,680.1 1045.1,673.6 1045.1,501.3 1002.2,507.9" fill="#0bb1d3" stroke="#1a1a1a" stroke-width="2.0" stroke-linejoin="round"/><polygon points="1002.2,507.9 1045.1,501.3 1016.7,493.2 973.8,499.8" fill="#0bb1d3" stroke="#1a1a1a" stroke-width="2.0" stroke-linejoin="round"/><polygon points="1062.9,674.0 1091.3,682.1 1091.3,569.3 1062.9,561.1" fill="#3e26a8" stroke="#1a1a1a" stroke-width="2.0" stroke-linejoin="round"/><polygon points="1091.3,682.1 1134.2,675.5 1134.2,562.7 1091.3,569.3" fill="#3284f4" stroke="#1a1a1a" stroke-width="2.0" stroke-linejoin="round"/><polygon points="1091.3,569.3 1134.2,562.7 1105.8,554.6 1062.9,561.1" fill="#3284f4" stroke="#1a1a1a" stroke-width="2.0" stroke-linejoin="round"/><polygon points="1152.0,675.9 1180.4,684.0 1180.4,573.2 1152.0,565.1" fill="#3e26a8" stroke="#1a1a1a" stroke-width="2.0" stroke-linejoin="round"/><polygon points="1180.4,684.0 1223.3,677.5 1223.3,566.7 1180.4,573.2" fill="#3382f5" stroke="#1a1a1a" stroke-width="2.0" stroke-linejoin="round"/><polygon points="1180.4,573.2 1223.3,566.7 1194.9,558.6 1152.0,565.1" fill="#3382f5" stroke="#1a1a1a" stroke-width="2.0" stroke-linejoin="round"/><polygon points="1241.1,677.9 1269.5,686.0 1269.5,590.2 1241.1,582.1" fill="#3e26a8" stroke="#1a1a1a" stroke-width="2.0" stroke-linejoin="round"/><polygon points="1269.5,686.0 1312.4,679.5 1312.4,583.7 1269.5,590.2" fill="#3b75fc" stroke="#1a1a1a" stroke-width="2.0" stroke-linejoin="round"/><polygon points="1269.5,590.2 1312.4,583.7 1284.0,575.6 1241.1,582.1" fill="#3b75fc" stroke="#1a1a1a" stroke-width="2.0" stroke-linejoin="round"/><polygon points="1330.2,679.9 1358.6,688.0 1358.6,569.2 1330.2,561.0" fill="#3e26a8" stroke="#1a1a1a" stroke-width="2.0" stroke-linejoin="round"/><polygon points="1358.6,688.0 1401.5,681.4 1401.5,562.6 1358.6,569.2" fill="#2f89f2" stroke="#1a1a1a" stroke-width="2.0" stroke-linejoin="round"/><polygon points="1358.6,569.2 1401.5,562.6 1373.1,554.5 1330.2,561.0" fill="#2f89f2" stroke="#1a1a1a" stroke-width="2.0" stroke-linejoin="round"/><polygon points="1419.4,681.8 1447.7,689.9 1447.7,555.4 1419.4,547.3" fill="#3e26a8" stroke="#1a1a1a" stroke-width="2.0" stroke-linejoin="round"/><polygon points="1447.7,689.9 1490.6,683.4 1490.6,548.9 1447.7,555.4" fill="#2797eb" stroke="#1a1a1a" stroke-width="2.0" stroke-linejoin="round"/><polygon points="1447.7,555.4 1490.6,548.9 1462.3,540.8 1419.4,547.3" fill="#2797eb" stroke="#1a1a1a" stroke-width="2.0" stroke-linejoin="round"/><polygon points="1508.5,683.8 1536.8,691.9 1536.8,570.8 1508.5,562.7" fill="#3e26a8" stroke="#1a1a1a" stroke-width="2.0" stroke-linejoin="round"/><polygon points="1536.8,691.9 1579.8,685.4 1579.8,564.2 1536.8,570.8" fill="#2e8bf1" stroke="#1a1a1a" stroke-width="2.0" stroke-linejoin="round"/><polygon points="1536.8,570.8 1579.8,564.2 1551.4,556.1 1508.5,562.7" fill="#2e8bf1" stroke="#1a1a1a" stroke-width="2.0" stroke-linejoin="round"/><polygon points="1597.6,685.8 1626.0,693.9 1626.0,558.7 1597.6,550.6" fill="#3e26a8" stroke="#1a1a1a" stroke-width="2.0" stroke-linejoin="round"/><polygon points="1626.0,693.9 1668.9,687.3 1668.9,552.2 1626.0,558.7" fill="#2698ea" stroke="#1a1a1a" stroke-width="2.0" stroke-linejoin="round"/><polygon points="1626.0,558.7 1668.9,552.2 1640.5,544.1 1597.6,550.6" fill="#2698ea" stroke="#1a1a1a" stroke-width="2.0" stroke-linejoin="round"/><polygon points="831.1,678.2 859.4,686.3 859.4,652.9 831.1,644.8" fill="#3e26a8" stroke="#1a1a1a" stroke-width="2.0" stroke-linejoin="round"/><polygon points="859.4,686.3 902.4,679.8 902.4,646.4 859.4,652.9" fill="#453fda" stroke="#1a1a1a" stroke-width="2.0" stroke-linejoin="round"/><polygon points="859.4,652.9 902.4,646.4 874.0,638.3 831.1,644.8" fill="#453fda" stroke="#1a1a1a" stroke-width="2.0" stroke-linejoin="round"/><polygon points="920.2,680.2 948.6,688.3 948.6,539.7 920.2,531.6" fill="#3e26a8" stroke="#1a1a1a" stroke-width="2.0" stroke-linejoin="round"/><polygon points="948.6,688.3 991.5,681.7 991.5,533.2 948.6,539.7" fill="#1da0e3" stroke="#1a1a1a" stroke-width="2.0" stroke-linejoin="round"/><polygon points="948.6,539.7 991.5,533.2 963.1,525.1 920.2,531.6" fill="#1da0e3" stroke="#1a1a1a" stroke-width="2.0" stroke-linejoin="round"/><polygon points="1009.3,682.1 1037.7,690.2 1037.7,522.7 1009.3,514.6" fill="#3e26a8" stroke="#1a1a1a" stroke-width="2.0" stroke-linejoin="round"/><polygon points="1037.7,690.2 1080.6,683.7 1080.6,516.2 1037.7,522.7" fill="#0faed6" stroke="#1a1a1a" stroke-width="2.0" stroke-linejoin="round"/><polygon points="1037.7,522.7 1080.6,516.2 1052.2,508.0 1009.3,514.6" fill="#0faed6" stroke="#1a1a1a" stroke-width="2.0" stroke-linejoin="round"/><polygon points="1098.4,684.1 1126.8,692.2 1126.8,581.4 1098.4,573.3" fill="#3e26a8" stroke="#1a1a1a" stroke-width="2.0" stroke-linejoin="round"/><polygon points="1126.8,692.2 1169.7,685.7 1169.7,574.9 1126.8,581.4" fill="#3382f5" stroke="#1a1a1a" stroke-width="2.0" stroke-linejoin="round"/><polygon points="1126.8,581.4 1169.7,574.9 1141.3,566.8 1098.4,573.3" fill="#3382f5" stroke="#1a1a1a" stroke-width="2.0" stroke-linejoin="round"/><polygon points="1187.5,686.1 1215.9,694.2 1215.9,585.4 1187.5,577.3" fill="#3e26a8" stroke="#1a1a1a" stroke-width="2.0" stroke-linejoin="round"/><polygon points="1215.9,694.2 1258.8,687.6 1258.8,578.8 1215.9,585.4" fill="#3480f6" stroke="#1a1a1a" stroke-width="2.0" stroke-linejoin="round"/><polygon points="1215.9,585.4 1258.8,578.8 1230.4,570.7 1187.5,577.3" fill="#3480f6" stroke="#1a1a1a" stroke-width="2.0" stroke-linejoin="round"/><polygon points="1276.6,688.0 1305.0,696.1 1305.0,600.4 1276.6,592.2" fill="#3e26a8" stroke="#1a1a1a" stroke-width="2.0" stroke-linejoin="round"/><polygon points="1305.0,696.1 1347.9,689.6 1347.9,593.8 1305.0,600.4" fill="#3b75fc" stroke="#1a1a1a" stroke-width="2.0" stroke-linejoin="round"/><polygon points="1305.0,600.4 1347.9,593.8 1319.5,585.7 1276.6,592.2" fill="#3b75fc" stroke="#1a1a1a" stroke-width="2.0" stroke-linejoin="round"/><polygon points="1365.7,690.0 1394.1,698.1 1394.1,579.3 1365.7,571.2" fill="#3e26a8" stroke="#1a1a1a" stroke-width="2.0" stroke-linejoin="round"/><polygon points="1394.1,698.1 1437.0,691.6 1437.0,572.8 1394.1,579.3" fill="#2f89f2" stroke="#1a1a1a" stroke-width="2.0" stroke-linejoin="round"/><polygon points="1394.1,579.3 1437.0,572.8 1408.6,564.7 1365.7,571.2" fill="#2f89f2" stroke="#1a1a1a" stroke-width="2.0" stroke-linejoin="round"/><polygon points="1454.8,692.0 1483.2,700.1 1483.2,565.6 1454.8,557.5" fill="#3e26a8" stroke="#1a1a1a" stroke-width="2.0" stroke-linejoin="round"/><polygon points="1483.2,700.1 1526.1,693.5 1526.1,559.0 1483.2,565.6" fill="#2797eb" stroke="#1a1a1a" stroke-width="2.0" stroke-linejoin="round"/><polygon points="1483.2,565.6 1526.1,559.0 1497.7,550.9 1454.8,557.5" fill="#2797eb" stroke="#1a1a1a" stroke-width="2.0" stroke-linejoin="round"/><polygon points="1543.9,693.9 1572.3,702.1 1572.3,582.6 1543.9,574.5" fill="#3e26a8" stroke="#1a1a1a" stroke-width="2.0" stroke-linejoin="round"/><polygon points="1572.3,702.1 1615.2,695.5 1615.2,576.0 1572.3,582.6" fill="#2f8af1" stroke="#1a1a1a" stroke-width="2.0" stroke-linejoin="round"/><polygon points="1572.3,582.6 1615.2,576.0 1586.8,567.9 1543.9,574.5" fill="#2f8af1" stroke="#1a1a1a" stroke-width="2.0" stroke-linejoin="round"/><polygon points="1633.1,695.9 1661.4,704.0 1661.4,587.2 1633.1,579.1" fill="#3e26a8" stroke="#1a1a1a" stroke-width="2.0" stroke-linejoin="round"/><polygon points="1661.4,704.0 1704.3,697.5 1704.3,580.7 1661.4,587.2" fill="#3087f3" stroke="#1a1a1a" stroke-width="2.0" stroke-linejoin="round"/><polygon points="1661.4,587.2 1704.3,580.7 1676.0,572.6 1633.1,579.1" fill="#3087f3" stroke="#1a1a1a" stroke-width="2.0" stroke-linejoin="round"/><polygon points="866.5,688.3 894.9,696.4 894.9,663.1 866.5,654.9" fill="#3e26a8" stroke="#1a1a1a" stroke-width="2.0" stroke-linejoin="round"/><polygon points="894.9,696.4 937.8,689.9 937.8,656.5 894.9,663.1" fill="#453fda" stroke="#1a1a1a" stroke-width="2.0" stroke-linejoin="round"/><polygon points="894.9,663.1 937.8,656.5 909.4,648.4 866.5,654.9" fill="#453fda" stroke="#1a1a1a" stroke-width="2.0" stroke-linejoin="round"/><polygon points="955.7,690.3 984.0,698.4 984.0,559.9 955.7,551.8" fill="#3e26a8" stroke="#1a1a1a" stroke-width="2.0" stroke-linejoin="round"/><polygon points="984.0,698.4 1026.9,691.9 1026.9,553.4 984.0,559.9" fill="#249ae8" stroke="#1a1a1a" stroke-width="2.0" stroke-linejoin="round"/><polygon points="984.0,559.9 1026.9,553.4 998.6,545.3 955.7,551.8" fill="#249ae8" stroke="#1a1a1a" stroke-width="2.0" stroke-linejoin="round"/><polygon points="1044.8,692.3 1073.1,700.4 1073.1,535.2 1044.8,527.1" fill="#3e26a8" stroke="#1a1a1a" stroke-width="2.0" stroke-linejoin="round"/><polygon points="1073.1,700.4 1116.1,693.8 1116.1,528.6 1073.1,535.2" fill="#11acd8" stroke="#1a1a1a" stroke-width="2.0" stroke-linejoin="round"/><polygon points="1073.1,535.2 1116.1,528.6 1087.7,520.5 1044.8,527.1" fill="#11acd8" stroke="#1a1a1a" stroke-width="2.0" stroke-linejoin="round"/><polygon points="1133.9,694.2 1162.3,702.3 1162.3,593.5 1133.9,585.4" fill="#3e26a8" stroke="#1a1a1a" stroke-width="2.0" stroke-linejoin="round"/><polygon points="1162.3,702.3 1205.2,695.8 1205.2,587.0 1162.3,593.5" fill="#3480f6" stroke="#1a1a1a" stroke-width="2.0" stroke-linejoin="round"/><polygon points="1162.3,593.5 1205.2,587.0 1176.8,578.9 1133.9,585.4" fill="#3480f6" stroke="#1a1a1a" stroke-width="2.0" stroke-linejoin="round"/><polygon points="1223.0,696.2 1251.4,704.3 1251.4,597.5 1223.0,589.4" fill="#3e26a8" stroke="#1a1a1a" stroke-width="2.0" stroke-linejoin="round"/><polygon points="1251.4,704.3 1294.3,697.8 1294.3,591.0 1251.4,597.5" fill="#357ff7" stroke="#1a1a1a" stroke-width="2.0" stroke-linejoin="round"/><polygon points="1251.4,597.5 1294.3,591.0 1265.9,582.9 1223.0,589.4" fill="#357ff7" stroke="#1a1a1a" stroke-width="2.0" stroke-linejoin="round"/><polygon points="1312.1,698.2 1340.5,706.3 1340.5,610.5 1312.1,602.4" fill="#3e26a8" stroke="#1a1a1a" stroke-width="2.0" stroke-linejoin="round"/><polygon points="1340.5,706.3 1383.4,699.7 1383.4,604.0 1340.5,610.5" fill="#3b75fc" stroke="#1a1a1a" stroke-width="2.0" stroke-linejoin="round"/><polygon points="1340.5,610.5 1383.4,604.0 1355.0,595.9 1312.1,602.4" fill="#3b75fc" stroke="#1a1a1a" stroke-width="2.0" stroke-linejoin="round"/><polygon points="1401.2,700.1 1429.6,708.3 1429.6,589.4 1401.2,581.3" fill="#3e26a8" stroke="#1a1a1a" stroke-width="2.0" stroke-linejoin="round"/><polygon points="1429.6,708.3 1472.5,701.7 1472.5,582.9 1429.6,589.4" fill="#2f89f2" stroke="#1a1a1a" stroke-width="2.0" stroke-linejoin="round"/><polygon points="1429.6,589.4 1472.5,582.9 1444.1,574.8 1401.2,581.3" fill="#2f89f2" stroke="#1a1a1a" stroke-width="2.0" stroke-linejoin="round"/><polygon points="1490.3,702.1 1518.7,710.2 1518.7,575.7 1490.3,567.6" fill="#3e26a8" stroke="#1a1a1a" stroke-width="2.0" stroke-linejoin="round"/><polygon points="1518.7,710.2 1561.6,703.7 1561.6,569.2 1518.7,575.7" fill="#2797eb" stroke="#1a1a1a" stroke-width="2.0" stroke-linejoin="round"/><polygon points="1518.7,575.7 1561.6,569.2 1533.2,561.1 1490.3,567.6" fill="#2797eb" stroke="#1a1a1a" stroke-width="2.0" stroke-linejoin="round"/><polygon points="1579.4,704.1 1607.8,712.2 1607.8,595.7 1579.4,587.6" fill="#3e26a8" stroke="#1a1a1a" stroke-width="2.0" stroke-linejoin="round"/><polygon points="1607.8,712.2 1650.7,705.7 1650.7,589.2 1607.8,595.7" fill="#3087f3" stroke="#1a1a1a" stroke-width="2.0" stroke-linejoin="round"/><polygon points="1607.8,595.7 1650.7,589.2 1622.3,581.1 1579.4,587.6" fill="#3087f3" stroke="#1a1a1a" stroke-width="2.0" stroke-linejoin="round"/><polygon points="1668.5,706.1 1696.9,714.2 1696.9,600.7 1668.5,592.6" fill="#3e26a8" stroke="#1a1a1a" stroke-width="2.0" stroke-linejoin="round"/><polygon points="1696.9,714.2 1739.8,707.6 1739.8,594.2 1696.9,600.7" fill="#3284f4" stroke="#1a1a1a" stroke-width="2.0" stroke-linejoin="round"/><polygon points="1696.9,600.7 1739.8,594.2 1711.4,586.0 1668.5,592.6" fill="#3284f4" stroke="#1a1a1a" stroke-width="2.0" stroke-linejoin="round"/><polygon points="902.0,698.5 930.4,706.6 930.4,681.2 902.0,673.1" fill="#3e26a8" stroke="#1a1a1a" stroke-width="2.0" stroke-linejoin="round"/><polygon points="930.4,706.6 973.3,700.0 973.3,674.7 930.4,681.2" fill="#4339ce" stroke="#1a1a1a" stroke-width="2.0" stroke-linejoin="round"/><polygon points="930.4,681.2 973.3,674.7 944.9,666.6 902.0,673.1" fill="#4339ce" stroke="#1a1a1a" stroke-width="2.0" stroke-linejoin="round"/><polygon points="991.1,700.4 1019.5,708.5 1019.5,581.1 991.1,572.9" fill="#3e26a8" stroke="#1a1a1a" stroke-width="2.0" stroke-linejoin="round"/><polygon points="1019.5,708.5 1062.4,702.0 1062.4,574.5 1019.5,581.1" fill="#2b91ee" stroke="#1a1a1a" stroke-width="2.0" stroke-linejoin="round"/><polygon points="1019.5,581.1 1062.4,574.5 1034.0,566.4 991.1,572.9" fill="#2b91ee" stroke="#1a1a1a" stroke-width="2.0" stroke-linejoin="round"/><polygon points="1080.2,702.4 1108.6,710.5 1108.6,548.6 1080.2,540.5" fill="#3e26a8" stroke="#1a1a1a" stroke-width="2.0" stroke-linejoin="round"/><polygon points="1108.6,710.5 1151.5,704.0 1151.5,542.1 1108.6,548.6" fill="#13aada" stroke="#1a1a1a" stroke-width="2.0" stroke-linejoin="round"/><polygon points="1108.6,548.6 1151.5,542.1 1123.1,534.0 1080.2,540.5" fill="#13aada" stroke="#1a1a1a" stroke-width="2.0" stroke-linejoin="round"/><polygon points="1169.4,704.4 1197.7,712.5 1197.7,605.7 1169.4,597.6" fill="#3e26a8" stroke="#1a1a1a" stroke-width="2.0" stroke-linejoin="round"/><polygon points="1197.7,712.5 1240.6,705.9 1240.6,599.1 1197.7,605.7" fill="#357ff7" stroke="#1a1a1a" stroke-width="2.0" stroke-linejoin="round"/><polygon points="1197.7,605.7 1240.6,599.1 1212.3,591.0 1169.4,597.6" fill="#357ff7" stroke="#1a1a1a" stroke-width="2.0" stroke-linejoin="round"/><polygon points="1258.5,706.3 1286.8,714.5 1286.8,609.0 1258.5,600.9" fill="#3e26a8" stroke="#1a1a1a" stroke-width="2.0" stroke-linejoin="round"/><polygon points="1286.8,714.5 1329.8,707.9 1329.8,602.5 1286.8,609.0" fill="#367df8" stroke="#1a1a1a" stroke-width="2.0" stroke-linejoin="round"/><polygon points="1286.8,609.0 1329.8,602.5 1301.4,594.3 1258.5,600.9" fill="#367df8" stroke="#1a1a1a" stroke-width="2.0" stroke-linejoin="round"/><polygon points="1347.6,708.3 1376.0,716.4 1376.0,620.6 1347.6,612.5" fill="#3e26a8" stroke="#1a1a1a" stroke-width="2.0" stroke-linejoin="round"/><polygon points="1376.0,716.4 1418.9,709.9 1418.9,614.1 1376.0,620.6" fill="#3b75fc" stroke="#1a1a1a" stroke-width="2.0" stroke-linejoin="round"/><polygon points="1376.0,620.6 1418.9,614.1 1390.5,606.0 1347.6,612.5" fill="#3b75fc" stroke="#1a1a1a" stroke-width="2.0" stroke-linejoin="round"/><polygon points="1436.7,710.3 1465.1,718.4 1465.1,599.6 1436.7,591.5" fill="#3e26a8" stroke="#1a1a1a" stroke-width="2.0" stroke-linejoin="round"/><polygon points="1465.1,718.4 1508.0,711.9 1508.0,593.0 1465.1,599.6" fill="#2f89f2" stroke="#1a1a1a" stroke-width="2.0" stroke-linejoin="round"/><polygon points="1465.1,599.6 1508.0,593.0 1479.6,584.9 1436.7,591.5" fill="#2f89f2" stroke="#1a1a1a" stroke-width="2.0" stroke-linejoin="round"/><polygon points="1525.8,712.3 1554.2,720.4 1554.2,585.9 1525.8,577.8" fill="#3e26a8" stroke="#1a1a1a" stroke-width="2.0" stroke-linejoin="round"/><polygon points="1554.2,720.4 1597.1,713.8 1597.1,579.3 1554.2,585.9" fill="#2797eb" stroke="#1a1a1a" stroke-width="2.0" stroke-linejoin="round"/><polygon points="1554.2,585.9 1597.1,579.3 1568.7,571.2 1525.8,577.8" fill="#2797eb" stroke="#1a1a1a" stroke-width="2.0" stroke-linejoin="round"/><polygon points="1614.9,714.2 1643.3,722.3 1643.3,605.9 1614.9,597.7" fill="#3e26a8" stroke="#1a1a1a" stroke-width="2.0" stroke-linejoin="round"/><polygon points="1643.3,722.3 1686.2,715.8 1686.2,599.3 1643.3,605.9" fill="#3087f3" stroke="#1a1a1a" stroke-width="2.0" stroke-linejoin="round"/><polygon points="1643.3,605.9 1686.2,599.3 1657.8,591.2 1614.9,597.7" fill="#3087f3" stroke="#1a1a1a" stroke-width="2.0" stroke-linejoin="round"/><polygon points="1704.0,716.2 1732.4,724.3 1732.4,614.2 1704.0,606.1" fill="#3e26a8" stroke="#1a1a1a" stroke-width="2.0" stroke-linejoin="round"/><polygon points="1732.4,724.3 1775.3,717.8 1775.3,607.6 1732.4,614.2" fill="#3382f5" stroke="#1a1a1a" stroke-width="2.0" stroke-linejoin="round"/><polygon points="1732.4,614.2 1775.3,607.6 1746.9,599.5 1704.0,606.1" fill="#3382f5" stroke="#1a1a1a" stroke-width="2.0" stroke-linejoin="round"/><polygon points="937.5,708.6 965.9,716.7 965.9,693.4 937.5,685.2" fill="#3e26a8" stroke="#1a1a1a" stroke-width="2.0" stroke-linejoin="round"/><polygon points="965.9,716.7 1008.8,710.2 1008.8,686.8 965.9,693.4" fill="#4336c9" stroke="#1a1a1a" stroke-width="2.0" stroke-linejoin="round"/><polygon points="965.9,693.4 1008.8,686.8 980.4,678.7 937.5,685.2" fill="#4336c9" stroke="#1a1a1a" stroke-width="2.0" stroke-linejoin="round"/><polygon points="1026.6,710.6 1055.0,718.7 1055.0,618.2 1026.6,610.1" fill="#3e26a8" stroke="#1a1a1a" stroke-width="2.0" stroke-linejoin="round"/><polygon points="1055.0,718.7 1097.9,712.1 1097.9,611.7 1055.0,618.2" fill="#3879fa" stroke="#1a1a1a" stroke-width="2.0" stroke-linejoin="round"/><polygon points="1055.0,618.2 1097.9,611.7 1069.5,603.6 1026.6,610.1" fill="#3879fa" stroke="#1a1a1a" stroke-width="2.0" stroke-linejoin="round"/><polygon points="1115.7,712.5 1144.1,720.7 1144.1,568.8 1115.7,560.7" fill="#3e26a8" stroke="#1a1a1a" stroke-width="2.0" stroke-linejoin="round"/><polygon points="1144.1,720.7 1187.0,714.1 1187.0,562.3 1144.1,568.8" fill="#1aa3e0" stroke="#1a1a1a" stroke-width="2.0" stroke-linejoin="round"/><polygon points="1144.1,568.8 1187.0,562.3 1158.6,554.2 1115.7,560.7" fill="#1aa3e0" stroke="#1a1a1a" stroke-width="2.0" stroke-linejoin="round"/><polygon points="1204.8,714.5 1233.2,722.6 1233.2,617.2 1204.8,609.0" fill="#3e26a8" stroke="#1a1a1a" stroke-width="2.0" stroke-linejoin="round"/><polygon points="1233.2,722.6 1276.1,716.1 1276.1,610.6 1233.2,617.2" fill="#367df8" stroke="#1a1a1a" stroke-width="2.0" stroke-linejoin="round"/><polygon points="1233.2,617.2 1276.1,610.6 1247.7,602.5 1204.8,609.0" fill="#367df8" stroke="#1a1a1a" stroke-width="2.0" stroke-linejoin="round"/><polygon points="1293.9,716.5 1322.3,724.6 1322.3,620.5 1293.9,612.4" fill="#3e26a8" stroke="#1a1a1a" stroke-width="2.0" stroke-linejoin="round"/><polygon points="1322.3,724.6 1365.2,718.1 1365.2,613.9 1322.3,620.5" fill="#377cf8" stroke="#1a1a1a" stroke-width="2.0" stroke-linejoin="round"/><polygon points="1322.3,620.5 1365.2,613.9 1336.8,605.8 1293.9,612.4" fill="#377cf8" stroke="#1a1a1a" stroke-width="2.0" stroke-linejoin="round"/><polygon points="1383.1,718.5 1411.4,726.6 1411.4,630.8 1383.1,622.7" fill="#3e26a8" stroke="#1a1a1a" stroke-width="2.0" stroke-linejoin="round"/><polygon points="1411.4,726.6 1454.3,720.0 1454.3,624.2 1411.4,630.8" fill="#3b75fc" stroke="#1a1a1a" stroke-width="2.0" stroke-linejoin="round"/><polygon points="1411.4,630.8 1454.3,624.2 1426.0,616.1 1383.1,622.7" fill="#3b75fc" stroke="#1a1a1a" stroke-width="2.0" stroke-linejoin="round"/><polygon points="1472.2,720.4 1500.5,728.5 1500.5,609.7 1472.2,601.6" fill="#3e26a8" stroke="#1a1a1a" stroke-width="2.0" stroke-linejoin="round"/><polygon points="1500.5,728.5 1543.5,722.0 1543.5,603.2 1500.5,609.7" fill="#2f89f2" stroke="#1a1a1a" stroke-width="2.0" stroke-linejoin="round"/><polygon points="1500.5,609.7 1543.5,603.2 1515.1,595.1 1472.2,601.6" fill="#2f89f2" stroke="#1a1a1a" stroke-width="2.0" stroke-linejoin="round"/><polygon points="1561.3,722.4 1589.7,730.5 1589.7,596.0 1561.3,587.9" fill="#3e26a8" stroke="#1a1a1a" stroke-width="2.0" stroke-linejoin="round"/><polygon points="1589.7,730.5 1632.6,724.0 1632.6,589.5 1589.7,596.0" fill="#2797eb" stroke="#1a1a1a" stroke-width="2.0" stroke-linejoin="round"/><polygon points="1589.7,596.0 1632.6,589.5 1604.2,581.4 1561.3,587.9" fill="#2797eb" stroke="#1a1a1a" stroke-width="2.0" stroke-linejoin="round"/><polygon points="1650.4,724.4 1678.8,732.5 1678.8,616.0 1650.4,607.9" fill="#3e26a8" stroke="#1a1a1a" stroke-width="2.0" stroke-linejoin="round"/><polygon points="1678.8,732.5 1721.7,725.9 1721.7,609.5 1678.8,616.0" fill="#3087f3" stroke="#1a1a1a" stroke-width="2.0" stroke-linejoin="round"/><polygon points="1678.8,616.0 1721.7,609.5 1693.3,601.3 1650.4,607.9" fill="#3087f3" stroke="#1a1a1a" stroke-width="2.0" stroke-linejoin="round"/><polygon points="1739.5,726.3 1767.9,734.4 1767.9,627.6 1739.5,619.5" fill="#3e26a8" stroke="#1a1a1a" stroke-width="2.0" stroke-linejoin="round"/><polygon points="1767.9,734.4 1810.8,727.9 1810.8,621.1 1767.9,627.6" fill="#357ff7" stroke="#1a1a1a" stroke-width="2.0" stroke-linejoin="round"/><polygon points="1767.9,627.6 1810.8,621.1 1782.4,613.0 1739.5,619.5" fill="#357ff7" stroke="#1a1a1a" stroke-width="2.0" stroke-linejoin="round"/><polygon points="973.0,718.7 1001.4,726.9 1001.4,698.8 973.0,690.7" fill="#3e26a8" stroke="#1a1a1a" stroke-width="2.0" stroke-linejoin="round"/><polygon points="1001.4,726.9 1044.3,720.3 1044.3,692.3 1001.4,698.8" fill="#443ad0" stroke="#1a1a1a" stroke-width="2.0" stroke-linejoin="round"/><polygon points="1001.4,698.8 1044.3,692.3 1015.9,684.2 973.0,690.7" fill="#443ad0" stroke="#1a1a1a" stroke-width="2.0" stroke-linejoin="round"/><polygon points="1062.1,720.7 1090.5,728.8 1090.5,639.4 1062.1,631.3" fill="#3e26a8" stroke="#1a1a1a" stroke-width="2.0" stroke-linejoin="round"/><polygon points="1090.5,728.8 1133.4,722.3 1133.4,632.8 1090.5,639.4" fill="#3e70fe" stroke="#1a1a1a" stroke-width="2.0" stroke-linejoin="round"/><polygon points="1090.5,639.4 1133.4,632.8 1105.0,624.7 1062.1,631.3" fill="#3e70fe" stroke="#1a1a1a" stroke-width="2.0" stroke-linejoin="round"/><polygon points="1151.2,722.7 1179.6,730.8 1179.6,582.3 1151.2,574.2" fill="#3e26a8" stroke="#1a1a1a" stroke-width="2.0" stroke-linejoin="round"/><polygon points="1179.6,730.8 1222.5,724.3 1222.5,575.7 1179.6,582.3" fill="#1da0e3" stroke="#1a1a1a" stroke-width="2.0" stroke-linejoin="round"/><polygon points="1179.6,582.3 1222.5,575.7 1194.1,567.6 1151.2,574.2" fill="#1da0e3" stroke="#1a1a1a" stroke-width="2.0" stroke-linejoin="round"/><polygon points="1240.3,724.7 1268.7,732.8 1268.7,628.6 1240.3,620.5" fill="#3e26a8" stroke="#1a1a1a" stroke-width="2.0" stroke-linejoin="round"/><polygon points="1268.7,732.8 1311.6,726.2 1311.6,622.1 1268.7,628.6" fill="#377cf8" stroke="#1a1a1a" stroke-width="2.0" stroke-linejoin="round"/><polygon points="1268.7,628.6 1311.6,622.1 1283.2,614.0 1240.3,620.5" fill="#377cf8" stroke="#1a1a1a" stroke-width="2.0" stroke-linejoin="round"/><polygon points="1329.4,726.6 1357.8,734.7 1357.8,631.9 1329.4,623.8" fill="#3e26a8" stroke="#1a1a1a" stroke-width="2.0" stroke-linejoin="round"/><polygon points="1357.8,734.7 1400.7,728.2 1400.7,625.4 1357.8,631.9" fill="#377bf9" stroke="#1a1a1a" stroke-width="2.0" stroke-linejoin="round"/><polygon points="1357.8,631.9 1400.7,625.4 1372.3,617.3 1329.4,623.8" fill="#377bf9" stroke="#1a1a1a" stroke-width="2.0" stroke-linejoin="round"/><polygon points="1418.5,728.6 1446.9,736.7 1446.9,640.9 1418.5,632.8" fill="#3e26a8" stroke="#1a1a1a" stroke-width="2.0" stroke-linejoin="round"/><polygon points="1446.9,736.7 1489.8,730.2 1489.8,634.4 1446.9,640.9" fill="#3b75fc" stroke="#1a1a1a" stroke-width="2.0" stroke-linejoin="round"/><polygon points="1446.9,640.9 1489.8,634.4 1461.4,626.3 1418.5,632.8" fill="#3b75fc" stroke="#1a1a1a" stroke-width="2.0" stroke-linejoin="round"/><polygon points="1507.6,730.6 1536.0,738.7 1536.0,619.9 1507.6,611.7" fill="#3e26a8" stroke="#1a1a1a" stroke-width="2.0" stroke-linejoin="round"/><polygon points="1536.0,738.7 1578.9,732.1 1578.9,613.3 1536.0,619.9" fill="#2f89f2" stroke="#1a1a1a" stroke-width="2.0" stroke-linejoin="round"/><polygon points="1536.0,619.9 1578.9,613.3 1550.5,605.2 1507.6,611.7" fill="#2f89f2" stroke="#1a1a1a" stroke-width="2.0" stroke-linejoin="round"/><polygon points="1596.8,732.5 1625.1,740.6 1625.1,606.1 1596.8,598.0" fill="#3e26a8" stroke="#1a1a1a" stroke-width="2.0" stroke-linejoin="round"/><polygon points="1625.1,740.6 1668.0,734.1 1668.0,599.6 1625.1,606.1" fill="#2797eb" stroke="#1a1a1a" stroke-width="2.0" stroke-linejoin="round"/><polygon points="1625.1,606.1 1668.0,599.6 1639.7,591.5 1596.8,598.0" fill="#2797eb" stroke="#1a1a1a" stroke-width="2.0" stroke-linejoin="round"/><polygon points="1685.9,734.5 1714.2,742.6 1714.2,626.1 1685.9,618.0" fill="#3e26a8" stroke="#1a1a1a" stroke-width="2.0" stroke-linejoin="round"/><polygon points="1714.2,742.6 1757.2,736.1 1757.2,619.6 1714.2,626.1" fill="#3087f3" stroke="#1a1a1a" stroke-width="2.0" stroke-linejoin="round"/><polygon points="1714.2,626.1 1757.2,619.6 1728.8,611.5 1685.9,618.0" fill="#3087f3" stroke="#1a1a1a" stroke-width="2.0" stroke-linejoin="round"/><polygon points="1775.0,736.5 1803.4,744.6 1803.4,637.8 1775.0,629.7" fill="#3e26a8" stroke="#1a1a1a" stroke-width="2.0" stroke-linejoin="round"/><polygon points="1803.4,744.6 1846.3,738.0 1846.3,631.2 1803.4,637.8" fill="#357ff7" stroke="#1a1a1a" stroke-width="2.0" stroke-linejoin="round"/><polygon points="1803.4,637.8 1846.3,631.2 1817.9,623.1 1775.0,629.7" fill="#357ff7" stroke="#1a1a1a" stroke-width="2.0" stroke-linejoin="round"/><polygon points="1008.5,728.9 1036.8,737.0 1036.8,703.6 1008.5,695.5" fill="#3e26a8" stroke="#1a1a1a" stroke-width="2.0" stroke-linejoin="round"/><polygon points="1036.8,737.0 1079.8,730.5 1079.8,697.1 1036.8,703.6" fill="#453fda" stroke="#1a1a1a" stroke-width="2.0" stroke-linejoin="round"/><polygon points="1036.8,703.6 1079.8,697.1 1051.4,689.0 1008.5,695.5" fill="#453fda" stroke="#1a1a1a" stroke-width="2.0" stroke-linejoin="round"/><polygon points="1097.6,730.9 1126.0,739.0 1126.0,659.5 1097.6,651.4" fill="#3e26a8" stroke="#1a1a1a" stroke-width="2.0" stroke-linejoin="round"/><polygon points="1126.0,739.0 1168.9,732.4 1168.9,653.0 1126.0,659.5" fill="#4066fa" stroke="#1a1a1a" stroke-width="2.0" stroke-linejoin="round"/><polygon points="1126.0,659.5 1168.9,653.0 1140.5,644.9 1097.6,651.4" fill="#4066fa" stroke="#1a1a1a" stroke-width="2.0" stroke-linejoin="round"/><polygon points="1186.7,732.8 1215.1,740.9 1215.1,615.8 1186.7,607.7" fill="#3e26a8" stroke="#1a1a1a" stroke-width="2.0" stroke-linejoin="round"/><polygon points="1215.1,740.9 1258.0,734.4 1258.0,609.2 1215.1,615.8" fill="#2c8eef" stroke="#1a1a1a" stroke-width="2.0" stroke-linejoin="round"/><polygon points="1215.1,615.8 1258.0,609.2 1229.6,601.1 1186.7,607.7" fill="#2c8eef" stroke="#1a1a1a" stroke-width="2.0" stroke-linejoin="round"/><polygon points="1275.8,734.8 1304.2,742.9 1304.2,640.1 1275.8,632.0" fill="#3e26a8" stroke="#1a1a1a" stroke-width="2.0" stroke-linejoin="round"/><polygon points="1304.2,742.9 1347.1,736.4 1347.1,633.6 1304.2,640.1" fill="#377bf9" stroke="#1a1a1a" stroke-width="2.0" stroke-linejoin="round"/><polygon points="1304.2,640.1 1347.1,633.6 1318.7,625.5 1275.8,632.0" fill="#377bf9" stroke="#1a1a1a" stroke-width="2.0" stroke-linejoin="round"/><polygon points="1364.9,736.8 1393.3,744.9 1393.3,643.4 1364.9,635.3" fill="#3e26a8" stroke="#1a1a1a" stroke-width="2.0" stroke-linejoin="round"/><polygon points="1393.3,744.9 1436.2,738.3 1436.2,636.9 1393.3,643.4" fill="#3879fa" stroke="#1a1a1a" stroke-width="2.0" stroke-linejoin="round"/><polygon points="1393.3,643.4 1436.2,636.9 1407.8,628.8 1364.9,635.3" fill="#3879fa" stroke="#1a1a1a" stroke-width="2.0" stroke-linejoin="round"/><polygon points="1454.0,738.7 1482.4,746.8 1482.4,651.1 1454.0,642.9" fill="#3e26a8" stroke="#1a1a1a" stroke-width="2.0" stroke-linejoin="round"/><polygon points="1482.4,746.8 1525.3,740.3 1525.3,644.5 1482.4,651.1" fill="#3b75fc" stroke="#1a1a1a" stroke-width="2.0" stroke-linejoin="round"/><polygon points="1482.4,651.1 1525.3,644.5 1496.9,636.4 1454.0,642.9" fill="#3b75fc" stroke="#1a1a1a" stroke-width="2.0" stroke-linejoin="round"/><polygon points="1543.1,740.7 1571.5,748.8 1571.5,630.0 1543.1,621.9" fill="#3e26a8" stroke="#1a1a1a" stroke-width="2.0" stroke-linejoin="round"/><polygon points="1571.5,748.8 1614.4,742.3 1614.4,623.5 1571.5,630.0" fill="#2f89f2" stroke="#1a1a1a" stroke-width="2.0" stroke-linejoin="round"/><polygon points="1571.5,630.0 1614.4,623.5 1586.0,615.4 1543.1,621.9" fill="#2f89f2" stroke="#1a1a1a" stroke-width="2.0" stroke-linejoin="round"/><polygon points="1632.2,742.7 1660.6,750.8 1660.6,616.3 1632.2,608.2" fill="#3e26a8" stroke="#1a1a1a" stroke-width="2.0" stroke-linejoin="round"/><polygon points="1660.6,750.8 1703.5,744.2 1703.5,609.7 1660.6,616.3" fill="#2797eb" stroke="#1a1a1a" stroke-width="2.0" stroke-linejoin="round"/><polygon points="1660.6,616.3 1703.5,609.7 1675.1,601.6 1632.2,608.2" fill="#2797eb" stroke="#1a1a1a" stroke-width="2.0" stroke-linejoin="round"/><polygon points="1721.3,744.6 1749.7,752.8 1749.7,636.3 1721.3,628.2" fill="#3e26a8" stroke="#1a1a1a" stroke-width="2.0" stroke-linejoin="round"/><polygon points="1749.7,752.8 1792.6,746.2 1792.6,629.7 1749.7,636.3" fill="#3087f3" stroke="#1a1a1a" stroke-width="2.0" stroke-linejoin="round"/><polygon points="1749.7,636.3 1792.6,629.7 1764.2,621.6 1721.3,628.2" fill="#3087f3" stroke="#1a1a1a" stroke-width="2.0" stroke-linejoin="round"/><polygon points="1810.5,746.6 1838.8,754.7 1838.8,498.7 1810.5,490.6" fill="#3e26a8" stroke="#1a1a1a" stroke-width="2.0" stroke-linejoin="round"/><polygon points="1838.8,754.7 1881.7,748.2 1881.7,492.2 1838.8,498.7" fill="#6dca6a" stroke="#1a1a1a" stroke-width="2.0" stroke-linejoin="round"/><polygon points="1838.8,498.7 1881.7,492.2 1853.4,484.1 1810.5,490.6" fill="#6dca6a" stroke="#1a1a1a" stroke-width="2.0" stroke-linejoin="round"/><polygon points="1043.9,739.0 1072.3,747.1 1072.3,705.4 1043.9,697.3" fill="#3e26a8" stroke="#1a1a1a" stroke-width="2.0" stroke-linejoin="round"/><polygon points="1072.3,747.1 1115.2,740.6 1115.2,698.9 1072.3,705.4" fill="#4744e6" stroke="#1a1a1a" stroke-width="2.0" stroke-linejoin="round"/><polygon points="1072.3,705.4 1115.2,698.9 1086.8,690.8 1043.9,697.3" fill="#4744e6" stroke="#1a1a1a" stroke-width="2.0" stroke-linejoin="round"/><polygon points="1133.1,741.0 1161.4,749.1 1161.4,675.3 1133.1,667.2" fill="#3e26a8" stroke="#1a1a1a" stroke-width="2.0" stroke-linejoin="round"/><polygon points="1161.4,749.1 1204.3,742.6 1204.3,668.8 1161.4,675.3" fill="#4161f8" stroke="#1a1a1a" stroke-width="2.0" stroke-linejoin="round"/><polygon points="1161.4,675.3 1204.3,668.8 1176.0,660.7 1133.1,667.2" fill="#4161f8" stroke="#1a1a1a" stroke-width="2.0" stroke-linejoin="round"/><polygon points="1222.2,743.0 1250.5,751.1 1250.5,634.3 1222.2,626.2" fill="#3e26a8" stroke="#1a1a1a" stroke-width="2.0" stroke-linejoin="round"/><polygon points="1250.5,751.1 1293.5,744.5 1293.5,627.7 1250.5,634.3" fill="#3087f3" stroke="#1a1a1a" stroke-width="2.0" stroke-linejoin="round"/><polygon points="1250.5,634.3 1293.5,627.7 1265.1,619.6 1222.2,626.2" fill="#3087f3" stroke="#1a1a1a" stroke-width="2.0" stroke-linejoin="round"/><polygon points="1311.3,744.9 1339.7,753.0 1339.7,651.6 1311.3,643.5" fill="#3e26a8" stroke="#1a1a1a" stroke-width="2.0" stroke-linejoin="round"/><polygon points="1339.7,753.0 1382.6,746.5 1382.6,645.0 1339.7,651.6" fill="#3879fa" stroke="#1a1a1a" stroke-width="2.0" stroke-linejoin="round"/><polygon points="1339.7,651.6 1382.6,645.0 1354.2,636.9 1311.3,643.5" fill="#3879fa" stroke="#1a1a1a" stroke-width="2.0" stroke-linejoin="round"/><polygon points="1400.4,746.9 1428.8,755.0 1428.8,654.9 1400.4,646.8" fill="#3e26a8" stroke="#1a1a1a" stroke-width="2.0" stroke-linejoin="round"/><polygon points="1428.8,755.0 1471.7,748.5 1471.7,648.4 1428.8,654.9" fill="#3879fa" stroke="#1a1a1a" stroke-width="2.0" stroke-linejoin="round"/><polygon points="1428.8,654.9 1471.7,648.4 1443.3,640.2 1400.4,646.8" fill="#3879fa" stroke="#1a1a1a" stroke-width="2.0" stroke-linejoin="round"/><polygon points="1489.5,748.9 1517.9,757.0 1517.9,661.2 1489.5,653.1" fill="#3e26a8" stroke="#1a1a1a" stroke-width="2.0" stroke-linejoin="round"/><polygon points="1517.9,757.0 1560.8,750.4 1560.8,654.7 1517.9,661.2" fill="#3b75fc" stroke="#1a1a1a" stroke-width="2.0" stroke-linejoin="round"/><polygon points="1517.9,661.2 1560.8,654.7 1532.4,646.6 1489.5,653.1" fill="#3b75fc" stroke="#1a1a1a" stroke-width="2.0" stroke-linejoin="round"/><polygon points="1578.6,750.8 1607.0,759.0 1607.0,640.1 1578.6,632.0" fill="#3e26a8" stroke="#1a1a1a" stroke-width="2.0" stroke-linejoin="round"/><polygon points="1607.0,759.0 1649.9,752.4 1649.9,633.6 1607.0,640.1" fill="#2f89f2" stroke="#1a1a1a" stroke-width="2.0" stroke-linejoin="round"/><polygon points="1607.0,640.1 1649.9,633.6 1621.5,625.5 1578.6,632.0" fill="#2f89f2" stroke="#1a1a1a" stroke-width="2.0" stroke-linejoin="round"/><polygon points="1667.7,752.8 1696.1,760.9 1696.1,626.4 1667.7,618.3" fill="#3e26a8" stroke="#1a1a1a" stroke-width="2.0" stroke-linejoin="round"/><polygon points="1696.1,760.9 1739.0,754.4 1739.0,619.9 1696.1,626.4" fill="#2797eb" stroke="#1a1a1a" stroke-width="2.0" stroke-linejoin="round"/><polygon points="1696.1,626.4 1739.0,619.9 1710.6,611.8 1667.7,618.3" fill="#2797eb" stroke="#1a1a1a" stroke-width="2.0" stroke-linejoin="round"/><polygon points="1756.8,754.8 1785.2,762.9 1785.2,522.3 1756.8,514.1" fill="#3e26a8" stroke="#1a1a1a" stroke-width="2.0" stroke-linejoin="round"/><polygon points="1785.2,762.9 1828.1,756.4 1828.1,515.7 1785.2,522.3" fill="#51c883" stroke="#1a1a1a" stroke-width="2.0" stroke-linejoin="round"/><polygon points="1785.2,522.3 1828.1,515.7 1799.7,507.6 1756.8,514.1" fill="#51c883" stroke="#1a1a1a" stroke-width="2.0" stroke-linejoin="round"/><polygon points="1079.4,749.2 1107.8,757.3 1107.8,705.5 1079.4,697.4" fill="#3e26a8" stroke="#1a1a1a" stroke-width="2.0" stroke-linejoin="round"/><polygon points="1107.8,757.3 1150.7,750.7 1150.7,699.0 1107.8,705.5" fill="#464eee" stroke="#1a1a1a" stroke-width="2.0" stroke-linejoin="round"/><polygon points="1107.8,705.5 1150.7,699.0 1122.3,690.9 1079.4,697.4" fill="#464eee" stroke="#1a1a1a" stroke-width="2.0" stroke-linejoin="round"/><polygon points="1168.5,751.1 1196.9,759.2 1196.9,685.5 1168.5,677.4" fill="#3e26a8" stroke="#1a1a1a" stroke-width="2.0" stroke-linejoin="round"/><polygon points="1196.9,759.2 1239.8,752.7 1239.8,679.0 1196.9,685.5" fill="#4161f8" stroke="#1a1a1a" stroke-width="2.0" stroke-linejoin="round"/><polygon points="1196.9,685.5 1239.8,679.0 1211.4,670.8 1168.5,677.4" fill="#4161f8" stroke="#1a1a1a" stroke-width="2.0" stroke-linejoin="round"/><polygon points="1257.6,753.1 1286.0,761.2 1286.0,644.4 1257.6,636.3" fill="#3e26a8" stroke="#1a1a1a" stroke-width="2.0" stroke-linejoin="round"/><polygon points="1286.0,761.2 1328.9,754.7 1328.9,637.9 1286.0,644.4" fill="#3087f3" stroke="#1a1a1a" stroke-width="2.0" stroke-linejoin="round"/><polygon points="1286.0,644.4 1328.9,637.9 1300.5,629.8 1257.6,636.3" fill="#3087f3" stroke="#1a1a1a" stroke-width="2.0" stroke-linejoin="round"/><polygon points="1346.8,755.1 1375.1,763.2 1375.1,663.1 1346.8,654.9" fill="#3e26a8" stroke="#1a1a1a" stroke-width="2.0" stroke-linejoin="round"/><polygon points="1375.1,763.2 1418.0,756.6 1418.0,656.5 1375.1,663.1" fill="#3879fa" stroke="#1a1a1a" stroke-width="2.0" stroke-linejoin="round"/><polygon points="1375.1,663.1 1418.0,656.5 1389.7,648.4 1346.8,654.9" fill="#3879fa" stroke="#1a1a1a" stroke-width="2.0" stroke-linejoin="round"/><polygon points="1435.9,757.0 1464.2,765.2 1464.2,665.0 1435.9,656.9" fill="#3e26a8" stroke="#1a1a1a" stroke-width="2.0" stroke-linejoin="round"/><polygon points="1464.2,765.2 1507.2,758.6 1507.2,658.5 1464.2,665.0" fill="#3879fa" stroke="#1a1a1a" stroke-width="2.0" stroke-linejoin="round"/><polygon points="1464.2,665.0 1507.2,658.5 1478.8,650.4 1435.9,656.9" fill="#3879fa" stroke="#1a1a1a" stroke-width="2.0" stroke-linejoin="round"/><polygon points="1525.0,759.0 1553.4,767.1 1553.4,671.3 1525.0,663.2" fill="#3e26a8" stroke="#1a1a1a" stroke-width="2.0" stroke-linejoin="round"/><polygon points="1553.4,767.1 1596.3,760.6 1596.3,664.8 1553.4,671.3" fill="#3b75fc" stroke="#1a1a1a" stroke-width="2.0" stroke-linejoin="round"/><polygon points="1553.4,671.3 1596.3,664.8 1567.9,656.7 1525.0,663.2" fill="#3b75fc" stroke="#1a1a1a" stroke-width="2.0" stroke-linejoin="round"/><polygon points="1614.1,761.0 1642.5,769.1 1642.5,650.3 1614.1,642.2" fill="#3e26a8" stroke="#1a1a1a" stroke-width="2.0" stroke-linejoin="round"/><polygon points="1642.5,769.1 1685.4,762.6 1685.4,643.7 1642.5,650.3" fill="#2f89f2" stroke="#1a1a1a" stroke-width="2.0" stroke-linejoin="round"/><polygon points="1642.5,650.3 1685.4,643.7 1657.0,635.6 1614.1,642.2" fill="#2f89f2" stroke="#1a1a1a" stroke-width="2.0" stroke-linejoin="round"/><polygon points="1703.2,763.0 1731.6,771.1 1731.6,560.8 1703.2,552.7" fill="#3e26a8" stroke="#1a1a1a" stroke-width="2.0" stroke-linejoin="round"/><polygon points="1731.6,771.1 1774.5,764.5 1774.5,554.3 1731.6,560.8" fill="#26c1ad" stroke="#1a1a1a" stroke-width="2.0" stroke-linejoin="round"/><polygon points="1731.6,560.8 1774.5,554.3 1746.1,546.2 1703.2,552.7" fill="#26c1ad" stroke="#1a1a1a" stroke-width="2.0" stroke-linejoin="round"/><polygon points="1114.9,759.3 1143.3,767.4 1143.3,699.0 1114.9,690.9" fill="#3e26a8" stroke="#1a1a1a" stroke-width="2.0" stroke-linejoin="round"/><polygon points="1143.3,767.4 1186.2,760.9 1186.2,692.5 1143.3,699.0" fill="#435cf5" stroke="#1a1a1a" stroke-width="2.0" stroke-linejoin="round"/><polygon points="1143.3,699.0 1186.2,692.5 1157.8,684.3 1114.9,690.9" fill="#435cf5" stroke="#1a1a1a" stroke-width="2.0" stroke-linejoin="round"/><polygon points="1204.0,761.3 1232.4,769.4 1232.4,695.6 1204.0,687.5" fill="#3e26a8" stroke="#1a1a1a" stroke-width="2.0" stroke-linejoin="round"/><polygon points="1232.4,769.4 1275.3,762.8 1275.3,689.1 1232.4,695.6" fill="#4161f8" stroke="#1a1a1a" stroke-width="2.0" stroke-linejoin="round"/><polygon points="1232.4,695.6 1275.3,689.1 1246.9,681.0 1204.0,687.5" fill="#4161f8" stroke="#1a1a1a" stroke-width="2.0" stroke-linejoin="round"/><polygon points="1293.1,763.2 1321.5,771.4 1321.5,654.5 1293.1,646.4" fill="#3e26a8" stroke="#1a1a1a" stroke-width="2.0" stroke-linejoin="round"/><polygon points="1321.5,771.4 1364.4,764.8 1364.4,648.0 1321.5,654.5" fill="#3087f3" stroke="#1a1a1a" stroke-width="2.0" stroke-linejoin="round"/><polygon points="1321.5,654.5 1364.4,648.0 1336.0,639.9 1293.1,646.4" fill="#3087f3" stroke="#1a1a1a" stroke-width="2.0" stroke-linejoin="round"/><polygon points="1382.2,765.2 1410.6,773.3 1410.6,673.2 1382.2,665.1" fill="#3e26a8" stroke="#1a1a1a" stroke-width="2.0" stroke-linejoin="round"/><polygon points="1410.6,773.3 1453.5,766.8 1453.5,666.7 1410.6,673.2" fill="#3879fa" stroke="#1a1a1a" stroke-width="2.0" stroke-linejoin="round"/><polygon points="1410.6,673.2 1453.5,666.7 1425.1,658.6 1382.2,665.1" fill="#3879fa" stroke="#1a1a1a" stroke-width="2.0" stroke-linejoin="round"/><polygon points="1471.3,767.2 1499.7,775.3 1499.7,675.2 1471.3,667.1" fill="#3e26a8" stroke="#1a1a1a" stroke-width="2.0" stroke-linejoin="round"/><polygon points="1499.7,775.3 1542.6,768.8 1542.6,668.6 1499.7,675.2" fill="#3879fa" stroke="#1a1a1a" stroke-width="2.0" stroke-linejoin="round"/><polygon points="1499.7,675.2 1542.6,668.6 1514.2,660.5 1471.3,667.1" fill="#3879fa" stroke="#1a1a1a" stroke-width="2.0" stroke-linejoin="round"/><polygon points="1560.5,769.2 1588.8,777.3 1588.8,681.5 1560.5,673.4" fill="#3e26a8" stroke="#1a1a1a" stroke-width="2.0" stroke-linejoin="round"/><polygon points="1588.8,777.3 1631.7,770.7 1631.7,674.9 1588.8,681.5" fill="#3b75fc" stroke="#1a1a1a" stroke-width="2.0" stroke-linejoin="round"/><polygon points="1588.8,681.5 1631.7,674.9 1603.4,666.8 1560.5,673.4" fill="#3b75fc" stroke="#1a1a1a" stroke-width="2.0" stroke-linejoin="round"/><polygon points="1649.6,771.1 1677.9,779.2 1677.9,562.6 1649.6,554.5" fill="#3e26a8" stroke="#1a1a1a" stroke-width="2.0" stroke-linejoin="round"/><polygon points="1677.9,779.2 1720.9,772.7 1720.9,556.1 1677.9,562.6" fill="#2cc4a6" stroke="#1a1a1a" stroke-width="2.0" stroke-linejoin="round"/><polygon points="1677.9,562.6 1720.9,556.1 1692.5,548.0 1649.6,554.5" fill="#2cc4a6" stroke="#1a1a1a" stroke-width="2.0" stroke-linejoin="round"/><polygon points="1150.4,769.4 1178.8,777.6 1178.8,690.8 1150.4,682.7" fill="#3e26a8" stroke="#1a1a1a" stroke-width="2.0" stroke-linejoin="round"/><polygon points="1178.8,777.6 1221.7,771.0 1221.7,684.2 1178.8,690.8" fill="#3f6dfe" stroke="#1a1a1a" stroke-width="2.0" stroke-linejoin="round"/><polygon points="1178.8,690.8 1221.7,684.2 1193.3,676.1 1150.4,682.7" fill="#3f6dfe" stroke="#1a1a1a" stroke-width="2.0" stroke-linejoin="round"/><polygon points="1239.5,771.4 1267.9,779.5 1267.9,705.8 1239.5,697.7" fill="#3e26a8" stroke="#1a1a1a" stroke-width="2.0" stroke-linejoin="round"/><polygon points="1267.9,779.5 1310.8,773.0 1310.8,699.2 1267.9,705.8" fill="#4161f8" stroke="#1a1a1a" stroke-width="2.0" stroke-linejoin="round"/><polygon points="1267.9,705.8 1310.8,699.2 1282.4,691.1 1239.5,697.7" fill="#4161f8" stroke="#1a1a1a" stroke-width="2.0" stroke-linejoin="round"/><polygon points="1328.6,773.4 1357.0,781.5 1357.0,664.7 1328.6,656.6" fill="#3e26a8" stroke="#1a1a1a" stroke-width="2.0" stroke-linejoin="round"/><polygon points="1357.0,781.5 1399.9,775.0 1399.9,658.1 1357.0,664.7" fill="#3087f3" stroke="#1a1a1a" stroke-width="2.0" stroke-linejoin="round"/><polygon points="1357.0,664.7 1399.9,658.1 1371.5,650.0 1328.6,656.6" fill="#3087f3" stroke="#1a1a1a" stroke-width="2.0" stroke-linejoin="round"/><polygon points="1417.7,775.4 1446.1,783.5 1446.1,683.3 1417.7,675.2" fill="#3e26a8" stroke="#1a1a1a" stroke-width="2.0" stroke-linejoin="round"/><polygon points="1446.1,783.5 1489.0,776.9 1489.0,676.8 1446.1,683.3" fill="#3879fa" stroke="#1a1a1a" stroke-width="2.0" stroke-linejoin="round"/><polygon points="1446.1,683.3 1489.0,676.8 1460.6,668.7 1417.7,675.2" fill="#3879fa" stroke="#1a1a1a" stroke-width="2.0" stroke-linejoin="round"/><polygon points="1506.8,777.3 1535.2,785.4 1535.2,685.3 1506.8,677.2" fill="#3e26a8" stroke="#1a1a1a" stroke-width="2.0" stroke-linejoin="round"/><polygon points="1535.2,785.4 1578.1,778.9 1578.1,678.8 1535.2,685.3" fill="#3879fa" stroke="#1a1a1a" stroke-width="2.0" stroke-linejoin="round"/><polygon points="1535.2,685.3 1578.1,678.8 1549.7,670.7 1506.8,677.2" fill="#3879fa" stroke="#1a1a1a" stroke-width="2.0" stroke-linejoin="round"/><polygon points="1595.9,779.3 1624.3,787.4 1624.3,609.5 1595.9,601.4" fill="#3e26a8" stroke="#1a1a1a" stroke-width="2.0" stroke-linejoin="round"/><polygon points="1624.3,787.4 1667.2,780.9 1667.2,603.0 1624.3,609.5" fill="#08b4d0" stroke="#1a1a1a" stroke-width="2.0" stroke-linejoin="round"/><polygon points="1624.3,609.5 1667.2,603.0 1638.8,594.9 1595.9,601.4" fill="#08b4d0" stroke="#1a1a1a" stroke-width="2.0" stroke-linejoin="round"/><polygon points="1185.9,779.6 1214.2,787.7 1214.2,674.2 1185.9,666.1" fill="#3e26a8" stroke="#1a1a1a" stroke-width="2.0" stroke-linejoin="round"/><polygon points="1214.2,787.7 1257.2,781.2 1257.2,667.7 1214.2,674.2" fill="#3284f4" stroke="#1a1a1a" stroke-width="2.0" stroke-linejoin="round"/><polygon points="1214.2,674.2 1257.2,667.7 1228.8,659.6 1185.9,666.1" fill="#3284f4" stroke="#1a1a1a" stroke-width="2.0" stroke-linejoin="round"/><polygon points="1275.0,781.6 1303.4,789.7 1303.4,715.9 1275.0,707.8" fill="#3e26a8" stroke="#1a1a1a" stroke-width="2.0" stroke-linejoin="round"/><polygon points="1303.4,789.7 1346.3,783.1 1346.3,709.4 1303.4,715.9" fill="#4161f8" stroke="#1a1a1a" stroke-width="2.0" stroke-linejoin="round"/><polygon points="1303.4,715.9 1346.3,709.4 1317.9,701.3 1275.0,707.8" fill="#4161f8" stroke="#1a1a1a" stroke-width="2.0" stroke-linejoin="round"/><polygon points="1364.1,783.5 1392.5,791.6 1392.5,674.8 1364.1,666.7" fill="#3e26a8" stroke="#1a1a1a" stroke-width="2.0" stroke-linejoin="round"/><polygon points="1392.5,791.6 1435.4,785.1 1435.4,668.3 1392.5,674.8" fill="#3087f3" stroke="#1a1a1a" stroke-width="2.0" stroke-linejoin="round"/><polygon points="1392.5,674.8 1435.4,668.3 1407.0,660.2 1364.1,666.7" fill="#3087f3" stroke="#1a1a1a" stroke-width="2.0" stroke-linejoin="round"/><polygon points="1453.2,785.5 1481.6,793.6 1481.6,693.5 1453.2,685.4" fill="#3e26a8" stroke="#1a1a1a" stroke-width="2.0" stroke-linejoin="round"/><polygon points="1481.6,793.6 1524.5,787.1 1524.5,686.9 1481.6,693.5" fill="#3879fa" stroke="#1a1a1a" stroke-width="2.0" stroke-linejoin="round"/><polygon points="1481.6,693.5 1524.5,686.9 1496.1,678.8 1453.2,685.4" fill="#3879fa" stroke="#1a1a1a" stroke-width="2.0" stroke-linejoin="round"/><polygon points="1542.3,787.5 1570.7,795.6 1570.7,602.7 1542.3,594.6" fill="#3e26a8" stroke="#1a1a1a" stroke-width="2.0" stroke-linejoin="round"/><polygon points="1570.7,795.6 1613.6,789.0 1613.6,596.1 1570.7,602.7" fill="#16bac0" stroke="#1a1a1a" stroke-width="2.0" stroke-linejoin="round"/><polygon points="1570.7,602.7 1613.6,596.1 1585.2,588.0 1542.3,594.6" fill="#16bac0" stroke="#1a1a1a" stroke-width="2.0" stroke-linejoin="round"/><polygon points="1221.3,789.7 1249.7,797.8 1249.7,657.7 1221.3,649.5" fill="#3e26a8" stroke="#1a1a1a" stroke-width="2.0" stroke-linejoin="round"/><polygon points="1249.7,797.8 1292.6,791.3 1292.6,651.1 1249.7,657.7" fill="#239be7" stroke="#1a1a1a" stroke-width="2.0" stroke-linejoin="round"/><polygon points="1249.7,657.7 1292.6,651.1 1264.2,643.0 1221.3,649.5" fill="#239be7" stroke="#1a1a1a" stroke-width="2.0" stroke-linejoin="round"/><polygon points="1310.5,791.7 1338.8,799.8 1338.8,726.0 1310.5,717.9" fill="#3e26a8" stroke="#1a1a1a" stroke-width="2.0" stroke-linejoin="round"/><polygon points="1338.8,799.8 1381.7,793.3 1381.7,719.5 1338.8,726.0" fill="#4161f8" stroke="#1a1a1a" stroke-width="2.0" stroke-linejoin="round"/><polygon points="1338.8,726.0 1381.7,719.5 1353.4,711.4 1310.5,717.9" fill="#4161f8" stroke="#1a1a1a" stroke-width="2.0" stroke-linejoin="round"/><polygon points="1399.6,793.7 1427.9,801.8 1427.9,685.0 1399.6,676.9" fill="#3e26a8" stroke="#1a1a1a" stroke-width="2.0" stroke-linejoin="round"/><polygon points="1427.9,801.8 1470.9,795.2 1470.9,678.4 1427.9,685.0" fill="#3087f3" stroke="#1a1a1a" stroke-width="2.0" stroke-linejoin="round"/><polygon points="1427.9,685.0 1470.9,678.4 1442.5,670.3 1399.6,676.9" fill="#3087f3" stroke="#1a1a1a" stroke-width="2.0" stroke-linejoin="round"/><polygon points="1488.7,795.6 1517.1,803.7 1517.1,583.1 1488.7,575.0" fill="#3e26a8" stroke="#1a1a1a" stroke-width="2.0" stroke-linejoin="round"/><polygon points="1517.1,803.7 1560.0,797.2 1560.0,576.6 1517.1,583.1" fill="#30c5a1" stroke="#1a1a1a" stroke-width="2.0" stroke-linejoin="round"/><polygon points="1517.1,583.1 1560.0,576.6 1531.6,568.5 1488.7,575.0" fill="#30c5a1" stroke="#1a1a1a" stroke-width="2.0" stroke-linejoin="round"/><polygon points="1256.8,799.9 1285.2,808.0 1285.2,637.8 1256.8,629.7" fill="#3e26a8" stroke="#1a1a1a" stroke-width="2.0" stroke-linejoin="round"/><polygon points="1285.2,808.0 1328.1,801.4 1328.1,631.2 1285.2,637.8" fill="#0eafd5" stroke="#1a1a1a" stroke-width="2.0" stroke-linejoin="round"/><polygon points="1285.2,637.8 1328.1,631.2 1299.7,623.1 1256.8,629.7" fill="#0eafd5" stroke="#1a1a1a" stroke-width="2.0" stroke-linejoin="round"/><polygon points="1345.9,801.8 1374.3,809.9 1374.3,736.2 1345.9,728.1" fill="#3e26a8" stroke="#1a1a1a" stroke-width="2.0" stroke-linejoin="round"/><polygon points="1374.3,809.9 1417.2,803.4 1417.2,729.7 1374.3,736.2" fill="#4161f8" stroke="#1a1a1a" stroke-width="2.0" stroke-linejoin="round"/><polygon points="1374.3,736.2 1417.2,729.7 1388.8,721.5 1345.9,728.1" fill="#4161f8" stroke="#1a1a1a" stroke-width="2.0" stroke-linejoin="round"/><polygon points="1435.0,803.8 1463.4,811.9 1463.4,541.6 1435.0,533.5" fill="#3e26a8" stroke="#1a1a1a" stroke-width="2.0" stroke-linejoin="round"/><polygon points="1463.4,811.9 1506.3,805.4 1506.3,535.0 1463.4,541.6" fill="#87cb55" stroke="#1a1a1a" stroke-width="2.0" stroke-linejoin="round"/><polygon points="1463.4,541.6 1506.3,535.0 1477.9,526.9 1435.0,533.5" fill="#87cb55" stroke="#1a1a1a" stroke-width="2.0" stroke-linejoin="round"/><polygon points="1292.3,810.0 1320.7,818.1 1320.7,597.8 1292.3,589.7" fill="#3e26a8" stroke="#1a1a1a" stroke-width="2.0" stroke-linejoin="round"/><polygon points="1320.7,818.1 1363.6,811.6 1363.6,591.3 1320.7,597.8" fill="#2fc5a2" stroke="#1a1a1a" stroke-width="2.0" stroke-linejoin="round"/><polygon points="1320.7,597.8 1363.6,591.3 1335.2,583.2 1292.3,589.7" fill="#2fc5a2" stroke="#1a1a1a" stroke-width="2.0" stroke-linejoin="round"/><polygon points="1381.4,812.0 1409.8,820.1 1409.8,519.0 1381.4,510.9" fill="#3e26a8" stroke="#1a1a1a" stroke-width="2.0" stroke-linejoin="round"/><polygon points="1409.8,820.1 1452.7,813.5 1452.7,512.5 1409.8,519.0" fill="#c8c033" stroke="#1a1a1a" stroke-width="2.0" stroke-linejoin="round"/><polygon points="1409.8,519.0 1452.7,512.5 1424.3,504.4 1381.4,510.9" fill="#c8c033" stroke="#1a1a1a" stroke-width="2.0" stroke-linejoin="round"/><polygon points="1327.8,820.1 1356.2,828.3 1356.2,433.4 1327.8,425.3" fill="#3e26a8" stroke="#1a1a1a" stroke-width="2.0" stroke-linejoin="round"/><polygon points="1356.2,828.3 1399.1,821.7 1399.1,426.9 1356.2,433.4" fill="#f9f617" stroke="#1a1a1a" stroke-width="2.0" stroke-linejoin="round"/><polygon points="1356.2,433.4 1399.1,426.9 1370.7,418.8 1327.8,425.3" fill="#f9f617" stroke="#1a1a1a" stroke-width="2.0" stroke-linejoin="round"/><line x1="293.5" y1="526.9" x2="1350.8" y2="829.1" stroke="#262626" stroke-width="2.2"/><line x1="1350.8" y1="829.1" x2="1887.1" y2="747.4" stroke="#262626" stroke-width="2.2"/><line x1="293.5" y1="526.9" x2="264.8" y2="518.7" stroke="#262626" stroke-width="2.2"/><line x1="293.5" y1="393.4" x2="264.8" y2="385.2" stroke="#262626" stroke-width="2.2"/><line x1="293.5" y1="259.9" x2="264.8" y2="251.7" stroke="#262626" stroke-width="2.2"/><line x1="293.5" y1="126.4" x2="264.8" y2="118.2" stroke="#262626" stroke-width="2.2"/><line x1="1194.7" y1="784.5" x2="1172.0" y2="787.9" stroke="#262626" stroke-width="2.2"/><line x1="1017.3" y1="733.8" x2="994.6" y2="737.2" stroke="#262626" stroke-width="2.2"/><line x1="839.9" y1="683.1" x2="817.2" y2="686.5" stroke="#262626" stroke-width="2.2"/><line x1="662.5" y1="632.4" x2="639.8" y2="635.8" stroke="#262626" stroke-width="2.2"/><line x1="485.1" y1="581.7" x2="462.4" y2="585.1" stroke="#262626" stroke-width="2.2"/><line x1="307.7" y1="531.0" x2="285.0" y2="534.4" stroke="#262626" stroke-width="2.2"/><line x1="1377.6" y1="825.0" x2="1402.6" y2="832.1" stroke="#262626" stroke-width="2.2"/><line x1="1592.1" y1="792.3" x2="1617.1" y2="799.5" stroke="#262626" stroke-width="2.2"/><line x1="1860.3" y1="751.5" x2="1885.3" y2="758.6" stroke="#262626" stroke-width="2.2"/><defs><linearGradient id="pg" x1="0" y1="0" x2="1" y2="0"><stop offset="0.0000" stop-color="#3e26a8"/><stop offset="0.0208" stop-color="#402cb5"/><stop offset="0.0417" stop-color="#4133c1"/><stop offset="0.0625" stop-color="#4339ce"/><stop offset="0.0833" stop-color="#453fda"/><stop offset="0.1042" stop-color="#4745e7"/><stop offset="0.1250" stop-color="#464cee"/><stop offset="0.1458" stop-color="#4553f1"/><stop offset="0.1667" stop-color="#435bf5"/><stop offset="0.1875" stop-color="#4163f9"/><stop offset="0.2083" stop-color="#3f6afc"/><stop offset="0.2292" stop-color="#3d72fd"/><stop offset="0.2500" stop-color="#3879fa"/><stop offset="0.2708" stop-color="#3480f6"/><stop offset="0.2917" stop-color="#3088f2"/><stop offset="0.3125" stop-color="#2c8fef"/><stop offset="0.3333" stop-color="#2797eb"/><stop offset="0.3542" stop-color="#219ce6"/><stop offset="0.3750" stop-color="#1ba2e1"/><stop offset="0.3958" stop-color="#15a7dc"/><stop offset="0.4167" stop-color="#0fadd7"/><stop offset="0.4375" stop-color="#0ab3d2"/><stop offset="0.4583" stop-color="#0db7ca"/><stop offset="0.4792" stop-color="#15bac1"/><stop offset="0.5000" stop-color="#1cbdb8"/><stop offset="0.5208" stop-color="#24c0af"/><stop offset="0.5417" stop-color="#2cc4a5"/><stop offset="0.5625" stop-color="#36c69b"/><stop offset="0.5833" stop-color="#45c78e"/><stop offset="0.6042" stop-color="#54c880"/><stop offset="0.6250" stop-color="#63ca73"/><stop offset="0.6458" stop-color="#72cb66"/><stop offset="0.6667" stop-color="#81cc59"/><stop offset="0.6875" stop-color="#92c950"/><stop offset="0.7083" stop-color="#a3c647"/><stop offset="0.7292" stop-color="#b4c33e"/><stop offset="0.7500" stop-color="#c5c135"/><stop offset="0.7708" stop-color="#d6be2c"/><stop offset="0.7917" stop-color="#e3bc2d"/><stop offset="0.8125" stop-color="#eeba35"/><stop offset="0.8333" stop-color="#f6bc39"/><stop offset="0.8542" stop-color="#fcbe3d"/><stop offset="0.8750" stop-color="#fdc836"/><stop offset="0.8958" stop-color="#fcd22e"/><stop offset="0.9167" stop-color="#fbda29"/><stop offset="0.9375" stop-color="#fbe224"/><stop offset="0.9583" stop-color="#faeb1f"/><stop offset="0.9792" stop-color="#faf31a"/><stop offset="1.0000" stop-color="#f9fb15"/></linearGradient></defs><rect x="296.30" y="1045.9" width="1591.10" height="79.1" fill="url(#pg)"/><rect x="296.3" y="1045.9" width="1591.1" height="79.1" fill="none" stroke="#262626" stroke-width="2"/><line x1="561.5" y1="1125.0" x2="561.5" y2="1109.0" stroke="#262626" stroke-width="1.6"/><line x1="826.7" y1="1125.0" x2="826.7" y2="1109.0" stroke="#262626" stroke-width="1.6"/><line x1="1091.9" y1="1125.0" x2="1091.9" y2="1109.0" stroke="#262626" stroke-width="1.6"/><line x1="1357.0" y1="1125.0" x2="1357.0" y2="1109.0" stroke="#262626" stroke-width="1.6"/><line x1="1622.2" y1="1125.0" x2="1622.2" y2="1109.0" stroke="#262626" stroke-width="1.6"/><text transform="translate(179.9 138.4) scale(0.950 1)" x="0" y="0" font-size="72.0" text-anchor="middle" fill="#262626" font-family="'Liberation Serif', 'Times New Roman', serif" >0.84</text><text transform="translate(180.9 273.2) scale(0.950 1)" x="0" y="0" font-size="72.0" text-anchor="middle" fill="#262626" font-family="'Liberation Serif', 'Times New Roman', serif" >0.8</text><text transform="translate(180.2 407.5) scale(0.950 1)" x="0" y="0" font-size="72.0" text-anchor="middle" fill="#262626" font-family="'Liberation Serif', 'Times New Roman', serif" >0.76</text><text transform="translate(180.2 540.2) scale(0.950 1)" x="0" y="0" font-size="72.0" text-anchor="middle" fill="#262626" font-family="'Liberation Serif', 'Times New Roman', serif" >0.72</text><text transform="translate(218.4 605.9) scale(0.950 1)" x="0" y="0" font-size="72.0" text-anchor="middle" fill="#262626" font-family="'Liberation Serif', 'Times New Roman', serif" >30</text><text transform="translate(396.3 656.9) scale(0.950 1)" x="0" y="0" font-size="72.0" text-anchor="middle" fill="#262626" font-family="'Liberation Serif', 'Times New Roman', serif" >25</text><text transform="translate(575.4 707.5) scale(0.950 1)" x="0" y="0" font-size="72.0" text-anchor="middle" fill="#262626" font-family="'Liberation Serif', 'Times New Roman', serif" >20</text><text transform="translate(753.7 756.1) scale(0.950 1)" x="0" y="0" font-size="72.0" text-anchor="middle" fill="#262626" font-family="'Liberation Serif', 'Times New Roman', serif" >15</text><text transform="translate(932.6 808.8) scale(0.950 1)" x="0" y="0" font-size="72.0" text-anchor="middle" fill="#262626" font-family="'Liberation Serif', 'Times New Roman', serif" >10</text><text transform="translate(1108.8 857.4) scale(0.950 1)" x="0" y="0" font-size="72.0" text-anchor="middle" fill="#262626" font-family="'Liberation Serif', 'Times New Roman', serif" >5</text><text transform="translate(1484.0 908.0) scale(0.950 1)" x="0" y="0" font-size="72.0" text-anchor="middle" fill="#262626" font-family="'Liberation Serif', 'Times New Roman', serif" >0.01</text><text transform="translate(1701.3 874.0) scale(0.950 1)" x="0" y="0" font-size="72.0" text-anchor="middle" fill="#262626" font-family="'Liberation Serif', 'Times New Roman', serif" >0.05</text><text transform="translate(1950.2 834.0) scale(0.950 1)" x="0" y="0" font-size="72.0" text-anchor="middle" fill="#262626" font-family="'Liberation Serif', 'Times New Roman', serif" >0.1</text><text transform="translate(87.1 329) rotate(-90)" x="0" y="0" font-size="77" text-anchor="middle" fill="#262626" font-family="'Liberation Serif', 'Times New Roman', serif">RMSE</text><text transform="translate(880.0 937.6) scale(0.950 1)" x="0" y="0" font-size="82.0" text-anchor="middle" fill="#262626" font-family="'Liberation Serif', 'Times New Roman', serif" font-style="italic">C</text><text transform="translate(1737.8 991.0) scale(1.120 1)" x="0" y="0" font-size="74.0" text-anchor="middle" fill="#262626" font-family="'Liberation Serif', 'Times New Roman', serif" font-style="italic">g</text><text transform="translate(296.3 1206.5) scale(0.950 1)" x="0" y="0" font-size="67.0" text-anchor="middle" fill="#262626" font-family="'Liberation Serif', 'Times New Roman', serif" >0.72</text><text transform="translate(561.5 1206.5) scale(0.950 1)" x="0" y="0" font-size="67.0" text-anchor="middle" fill="#262626" font-family="'Liberation Serif', 'Times New Roman', serif" >0.74</text><text transform="translate(826.7 1206.5) scale(0.950 1)" x="0" y="0" font-size="67.0" text-anchor="middle" fill="#262626" font-family="'Liberation Serif', 'Times New Roman', serif" >0.76</text><text transform="translate(1091.9 1206.5) scale(0.950 1)" x="0" y="0" font-size="67.0" text-anchor="middle" fill="#262626" font-family="'Liberation Serif', 'Times New Roman', serif" >0.78</text><text transform="translate(1357.0 1206.5) scale(0.950 1)" x="0" y="0" font-size="67.0" text-anchor="middle" fill="#262626" font-family="'Liberation Serif', 'Times New Roman', serif" >0.8</text><text transform="translate(1622.2 1206.5) scale(0.950 1)" x="0" y="0" font-size="67.0" text-anchor="middle" fill="#262626" font-family="'Liberation Serif', 'Times New Roman', serif" >0.82</text><text transform="translate(1887.4 1206.5) scale(0.950 1)" x="0" y="0" font-size="67.0" text-anchor="middle" fill="#262626" font-family="'Liberation Serif', 'Times New Roman', serif" >0.84</text><text x="282.8" y="1326.3" font-size="84" textLength="94.4" lengthAdjust="spacingAndGlyphs" font-family="'Liberation Serif', 'Times New Roman', serif" >(<tspan font-weight="bold">a</tspan>)</text><text x="398.9" y="1326.3" font-size="84" textLength="203.6" lengthAdjust="spacingAndGlyphs" font-family="'Liberation Serif', 'Times New Roman', serif" >Input</text><text x="622.9" y="1326.3" font-size="84" textLength="178.1" lengthAdjust="spacingAndGlyphs" font-family="'Liberation Serif', 'Times New Roman', serif" >solar</text><text x="824.0" y="1326.3" font-size="84" textLength="272.0" lengthAdjust="spacingAndGlyphs" font-family="'Liberation Serif', 'Times New Roman', serif" >activity</text><text x="1120.4" y="1326.3" font-size="84" textLength="282.8" lengthAdjust="spacingAndGlyphs" font-family="'Liberation Serif', 'Times New Roman', serif" >indices:</text><text x="1424.5" y="1326.3" font-size="84" textLength="51.5" lengthAdjust="spacingAndGlyphs" font-family="'Liberation Serif', 'Times New Roman', serif" font-style="italic">R</text><text x="1477.3" y="1326.3" font-size="51" textLength="51.2" lengthAdjust="spacingAndGlyphs" font-family="'Liberation Serif', 'Times New Roman', serif" >12</text><text x="1548.4" y="1326.3" font-size="84" textLength="138.6" lengthAdjust="spacingAndGlyphs" font-family="'Liberation Serif', 'Times New Roman', serif" >and</text><text x="1710.5" y="1326.3" font-size="84" textLength="44.0" lengthAdjust="spacingAndGlyphs" font-family="'Liberation Serif', 'Times New Roman', serif" font-style="italic">F</text><text x="1755.3" y="1326.3" font-size="51" textLength="50.6" lengthAdjust="spacingAndGlyphs" font-family="'Liberation Serif', 'Times New Roman', serif" >12</text><text x="1804.7" y="1326.3" font-size="84" textLength="23.4" lengthAdjust="spacingAndGlyphs" font-family="'Liberation Serif', 'Times New Roman', serif" >.</text></svg></body></html>
